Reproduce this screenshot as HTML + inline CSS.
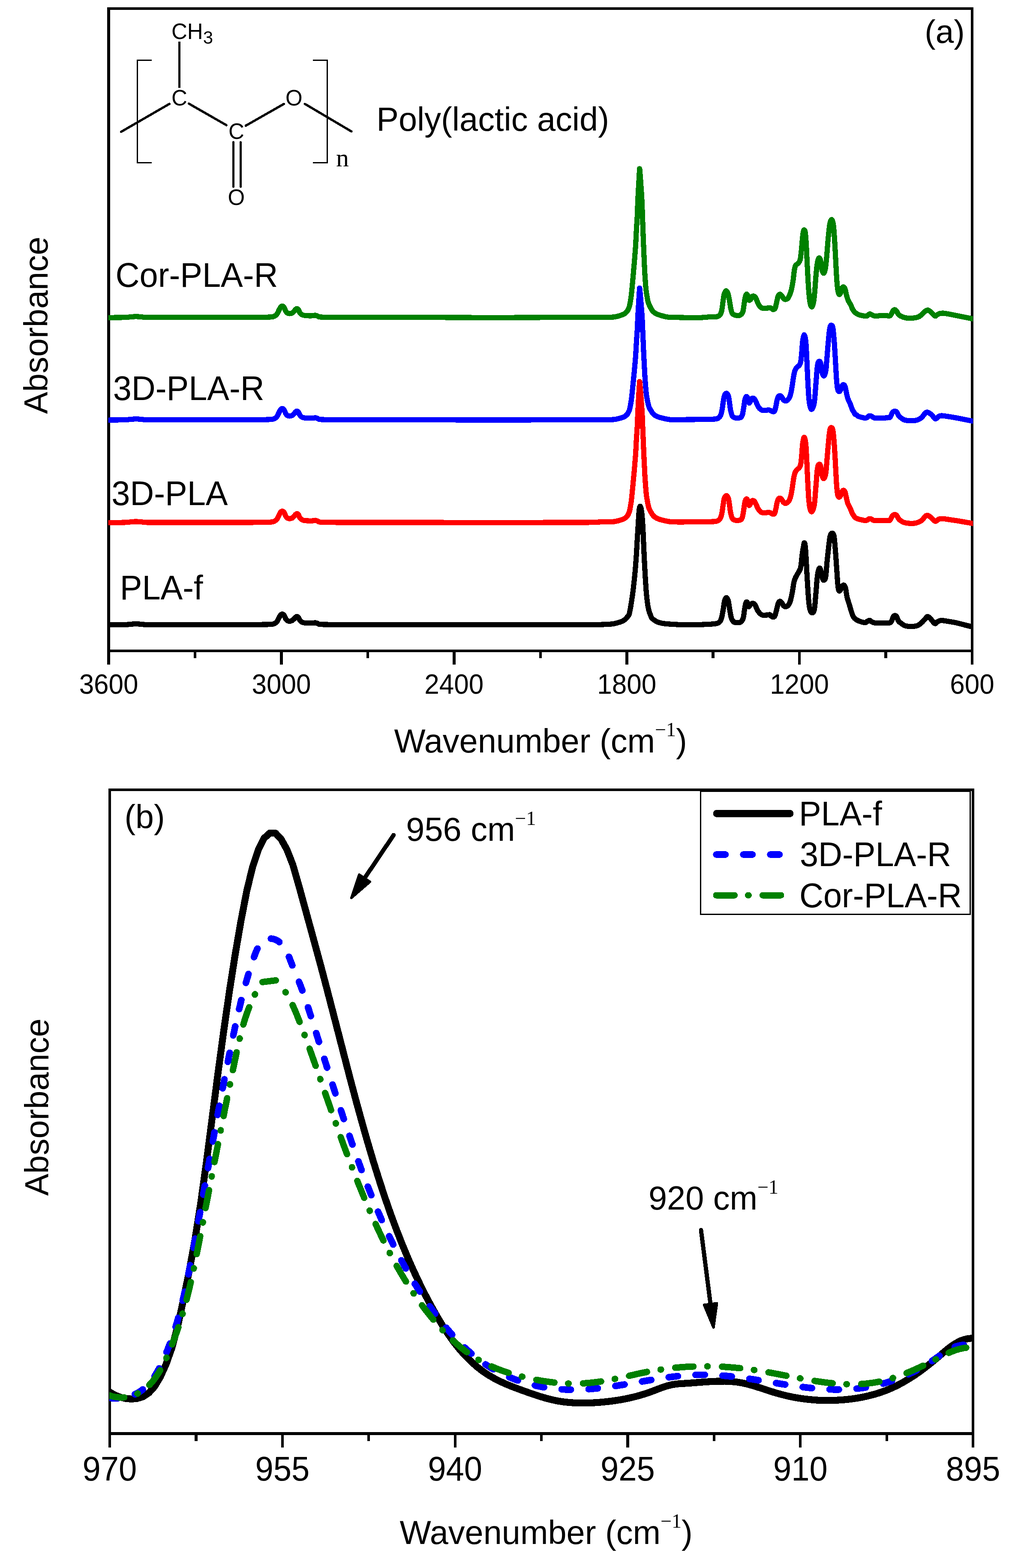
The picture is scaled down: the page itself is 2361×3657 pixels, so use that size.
<!DOCTYPE html>
<html lang="en"><head><meta charset="utf-8"><title>FTIR spectra of poly(lactic acid)</title>
<style>html,body{margin:0;padding:0;background:#fff}body{width:2361px;height:3657px;overflow:hidden}svg{display:block}text{font-family:"Liberation Sans", Arial, Helvetica, sans-serif;fill:#000}.se{font-family:"Liberation Serif", "Times New Roman", serif}.ax{stroke:#000;fill:none}.cv{fill:none;stroke-linejoin:round;stroke-linecap:round}</style></head><body>
<svg width="2361" height="3657" viewBox="0 0 2361 3657" shape-rendering="crispEdges" role="img" aria-label="FTIR spectra of PLA samples">
<rect width="2361" height="3657" fill="#fff"/>
<g id="plot-a">
<rect x="250" y="16.9" width="7.1" height="1533" fill="#000"/>
<rect x="2265" y="16.9" width="6.1" height="1533" fill="#000"/>
<rect x="250" y="16.9" width="2021.1" height="6.1" fill="#000"/>
<rect x="250" y="1515" width="2021.1" height="5.7" fill="#000"/>
<rect x="653.1" y="1518" width="6.6" height="31.9" fill="#000"/>
<rect x="1056" y="1518" width="6.6" height="31.9" fill="#000"/>
<rect x="1458.9" y="1518" width="6.6" height="31.9" fill="#000"/>
<rect x="1861.8" y="1518" width="6.6" height="31.9" fill="#000"/>
<rect x="451.7" y="1518" width="6.6" height="17.3" fill="#000"/>
<rect x="854.6" y="1518" width="6.6" height="17.3" fill="#000"/>
<rect x="1257.5" y="1518" width="6.6" height="17.3" fill="#000"/>
<rect x="1660.4" y="1518" width="6.6" height="17.3" fill="#000"/>
<rect x="2063.3" y="1518" width="6.6" height="17.3" fill="#000"/>
<clipPath id="ca"><rect x="252.6" y="20" width="2017.4" height="1498"/></clipPath>
<g clip-path="url(#ca)">
<path class="cv" stroke="#008000" stroke-width="12.2" d="M244 740.8C251.7 740.7 279.8 740.6 290 740.3C300.2 740 300.5 739.4 305 739.1C309.5 738.8 312.8 738.3 317 738.3C321.2 738.3 325.3 738.8 330 739.1C334.7 739.4 333.3 740.1 345 740.3C356.7 740.5 374.2 740.3 400 740.3C425.8 740.3 470 740.3 500 740.3C530 740.3 561.5 740.4 580 740.3C598.5 740.2 602.4 740.1 611.2 739.9C619.9 739.7 627.7 739.7 632.6 739.3C637.5 738.9 638.1 738.5 640.4 737.4C642.7 736.2 644.5 734.9 646.2 732.5C648 730.1 649.6 725.5 651.1 722.8C652.6 720 653.7 717.4 655 715.9C656.3 714.5 657.6 713.8 658.9 714C660.2 714.2 661.5 715 662.8 716.9C664.1 718.9 665.4 723.5 666.7 725.7C668 727.9 669.1 729.2 670.6 730.2C672.1 731.1 673.7 731.5 675.5 731.5C677.2 731.5 679.5 731.1 681.3 730.2C683.1 729.2 684.7 727.2 686.2 725.7C687.6 724.2 688.9 722.2 690.1 721.2C691.2 720.2 692 719.6 693 719.8C694 720 695.2 720.8 696.3 722.4C697.4 724 698.4 727.6 699.8 729.6C701.2 731.5 702.6 733 704.7 734.1C706.8 735.1 708.6 735.6 712.5 736C716.4 736.4 724.2 736.5 728.1 736.4C732 736.3 733.6 735.3 735.9 735.4C738.1 735.6 740.1 736.7 741.7 737.4C743.3 738 741.7 738.9 745.6 739.3C749.5 739.7 757 739.7 765.1 739.9C773.2 740.1 775.1 740.2 794.3 740.3C813.5 740.4 845.7 740.3 880 740.3C914.3 740.3 963.3 740.2 1000 740.3C1036.7 740.3 1066.7 740.5 1100 740.6C1133.3 740.6 1166.7 740.6 1200 740.6C1233.3 740.5 1271.7 740.3 1300 740.3C1328.3 740.2 1353.3 740.3 1370 740.3C1386.7 740.3 1392.2 740.3 1400 740.3C1407.8 740.2 1411.2 740.1 1416.8 739.9C1422.4 739.7 1428.5 739.9 1433.5 739.2C1438.5 738.6 1443 737.1 1446.9 735.9C1450.8 734.6 1454.2 733.5 1457 731.7C1459.8 729.9 1462 727.4 1463.7 725.1C1465.4 722.9 1466.3 720.2 1467.1 718.2C1467.9 716.2 1468.2 715.5 1468.7 713.3C1469.2 711.1 1469.7 709.2 1470.4 705C1471.1 700.8 1472.2 693.6 1472.9 688C1473.6 682.4 1473.8 679.7 1474.6 671.4C1475.4 663 1476.6 649.2 1477.6 638.1C1478.6 626.9 1479.6 615.6 1480.5 604.4C1481.4 593.3 1482.3 582.3 1483 571.1C1483.7 560 1484.1 548.6 1484.7 537.5C1485.3 526.3 1486.2 515.3 1486.7 504.2C1487.2 493 1487.5 481.7 1488 470.5C1488.5 459.3 1489.1 448 1489.7 436.9C1490.3 425.7 1491.2 410.8 1491.6 403.6C1492 396.3 1491.9 393.5 1492.2 393.5C1492.5 393.5 1492.6 396.3 1493.2 403.6C1493.8 410.8 1494.9 425.7 1495.6 436.9C1496.4 448 1497.2 459.3 1497.7 470.5C1498.2 481.7 1498.5 493 1498.9 504.2C1499.3 515.3 1499.7 526.3 1500.1 537.5C1500.5 548.6 1501 560 1501.4 571.1C1501.9 582.3 1502.3 593.3 1502.8 604.4C1503.3 615.6 1503.7 626.9 1504.4 638.1C1505.1 649.2 1506 663 1506.8 671.4C1507.6 679.7 1508.1 682.4 1509 688C1509.9 693.6 1511.2 700.8 1512.3 705C1513.4 709.2 1514 710 1515.7 713.3C1517.4 716.7 1519.9 722.1 1522.4 725.1C1524.9 728.2 1527.5 729.9 1530.8 731.7C1534.1 733.5 1537.8 734.6 1542.5 735.9C1547.2 737.2 1552.2 739 1559.2 739.7C1566.2 740.5 1575.9 740.2 1584.2 740.4C1592.5 740.6 1601 740.8 1609.1 740.8C1617.2 740.9 1625.5 741.1 1633 740.8C1640.4 740.6 1647.4 739.7 1653.9 739.3C1660.4 739 1667.6 739.5 1671.8 738.7C1676 738 1677.3 737.2 1679.3 734.9C1681.3 732.5 1682.5 729.6 1683.8 724.4C1685 719.2 1685.7 710 1686.7 703.5C1687.7 697 1688.5 689.8 1689.7 685.6C1691 681.3 1692.7 678.1 1694.2 678.1C1695.7 678.1 1697.3 681.3 1698.7 685.6C1700 689.8 1701.2 697.5 1702.3 703.5C1703.4 709.5 1704.1 716.7 1705.3 721.4C1706.4 726.1 1707 729.5 1709.1 731.9C1711.3 734.3 1715.1 735.2 1718.1 735.7C1721.1 736.2 1724.6 736.2 1727.1 734.9C1729.5 733.5 1731.5 731.6 1733 727.4C1734.5 723.2 1735 715.4 1736 709.5C1737 703.5 1737.9 695.4 1739 691.5C1740.1 687.7 1741.4 685.7 1742.6 686.2C1743.7 686.7 1745 692.1 1745.9 694.5C1746.8 696.9 1747 700 1748 700.5C1749 701 1750.7 699 1751.9 697.5C1753 696 1753.6 692.6 1754.8 691.5C1756.1 690.4 1757.8 690.2 1759.3 690.9C1760.8 691.7 1762.4 693.4 1763.8 696C1765.2 698.6 1766.4 703.2 1768 706.5C1769.6 709.7 1771.2 713.3 1773.4 715.4C1775.5 717.6 1777.8 718.8 1780.8 719.3C1783.8 719.8 1788.5 718.7 1791.3 718.4C1794 718.2 1795.5 717.4 1797.3 717.8C1799 718.2 1800.5 720.1 1801.7 720.8C1803 721.5 1803.6 722.4 1804.7 722C1805.9 721.6 1807.5 721 1808.6 718.4C1809.7 715.8 1810.5 711 1811.6 706.5C1812.7 702 1813.8 694.9 1815.2 691.5C1816.5 688.2 1818.2 686.4 1819.7 686.2C1821.1 685.9 1822.6 688.3 1824.1 690C1825.6 691.8 1827.1 695.5 1828.6 696.9C1830.1 698.3 1831.4 698.8 1833.1 698.4C1834.8 698 1836.9 698.1 1839.1 694.5C1841.2 690.9 1844.1 683.8 1846 676.9C1847.9 669.9 1849.2 660.9 1850.5 653C1851.7 645 1852.4 634.8 1853.4 629.1C1854.4 623.4 1854.9 621.1 1856.4 618.6C1857.9 616.1 1860.7 616.4 1862.4 614.1C1864.1 611.9 1865.6 610.7 1866.9 605.2C1868.1 599.7 1869 589.8 1869.9 581.3C1870.8 572.8 1871.5 561.4 1872.3 554.4C1873 547.4 1873.7 542.5 1874.3 539.5C1875 536.5 1875.7 536 1876.4 536.5C1877.2 537 1878.1 537 1878.8 542.5C1879.6 547.9 1880.3 558.9 1880.9 569.3C1881.6 579.8 1882.1 592.2 1882.7 605.2C1883.4 618.1 1884.1 634.1 1884.8 647C1885.5 659.9 1886.3 672.9 1887.2 682.8C1888 692.8 1888.8 701.3 1889.9 706.7C1891 712.2 1892.5 715.7 1893.8 715.7C1895.1 715.7 1896.5 712.2 1897.6 706.7C1898.8 701.3 1899.7 692.8 1900.6 682.8C1901.6 672.9 1902.4 658 1903.3 647C1904.3 636 1905.3 624.4 1906.3 617.1C1907.3 609.9 1908.3 606.2 1909.3 603.7C1910.3 601.2 1911.3 601 1912.3 602.2C1913.3 603.4 1914.4 606.7 1915.3 611.2C1916.2 615.6 1916.7 624.7 1917.7 629.1C1918.7 633.5 1920 637.4 1921.2 637.4C1922.5 637.4 1924 634.5 1925.1 629.1C1926.3 623.7 1927.2 614.1 1928.1 605.2C1929 596.2 1929.7 585.3 1930.5 575.3C1931.3 565.4 1932.2 554.4 1933.2 545.4C1934.1 536.5 1935 527.1 1936.2 521.6C1937.3 516 1938.8 512 1940.1 512C1941.4 512 1942.8 515 1943.9 521.6C1945 528.1 1945.8 539.5 1946.6 551.4C1947.5 563.4 1948.3 579.3 1949 593.2C1949.8 607.2 1950.4 622.6 1951.1 635.1C1951.9 647.5 1952.7 659.9 1953.5 667.9C1954.3 675.9 1955 679.7 1955.9 682.8C1956.8 686 1957.8 687.2 1958.9 686.7C1960 686.2 1961.4 682.5 1962.5 679.9C1963.6 677.2 1964.5 672.6 1965.4 670.9C1966.4 669.2 1967.3 668.7 1968.4 669.4C1969.5 670.1 1970.9 672.1 1972 675.4C1973.1 678.6 1973.9 684.6 1975 688.8C1976.2 693 1977.2 697 1978.9 700.8C1980.5 704.5 1983.1 707.7 1984.9 711.2C1986.6 714.7 1987.6 718.7 1989.3 721.7C1991.1 724.7 1992.8 727 1995.3 729.1C1997.8 731.2 2001 733 2004.3 734.2C2007.5 735.5 2011.7 736.1 2014.7 736.6C2017.7 737.1 2020.2 737.7 2022.2 737.2C2024.2 736.7 2025.4 734.5 2026.7 733.6C2027.9 732.8 2028.4 732 2029.7 732.1C2030.9 732.2 2032.2 733.4 2034.1 734.2C2036.1 735.1 2038.1 736.9 2041.6 737.2C2045.1 737.5 2050.8 736.2 2055.1 736C2059.3 735.8 2063.5 735.9 2067 736C2070.5 736.1 2073.7 737.5 2076 736.6C2078.2 735.7 2079.2 732.6 2080.4 730.6C2081.7 728.6 2082.3 726.1 2083.4 724.7C2084.6 723.3 2086 722.2 2087.3 722.3C2088.7 722.4 2090.1 723.6 2091.5 725.3C2092.8 726.9 2093.7 730.1 2095.4 732.1C2097 734.1 2098.6 735.7 2101.4 737.2C2104.1 738.7 2108.1 740.3 2111.8 741.1C2115.5 741.9 2119.8 742 2123.8 742C2127.7 742 2132.2 741.7 2135.7 741.1C2139.2 740.4 2141.9 739.6 2144.7 738.1C2147.4 736.6 2149.9 734.1 2152.1 732.1C2154.4 730.1 2156.1 727.6 2158.1 726.2C2160.1 724.7 2162.1 723.2 2164.1 723.2C2166.1 723.2 2168.1 724.7 2170 726.2C2172 727.6 2174 730.3 2176 732.1C2178 734 2180.3 736.9 2182 737.2C2183.7 737.6 2184.7 735.2 2186.5 734.2C2188.2 733.2 2190 731.8 2192.4 731.2C2194.9 730.6 2197.4 730.3 2201.4 730.6C2205.4 730.9 2210.9 732 2216.3 733C2221.8 734 2228.3 735.4 2234.3 736.6C2240.2 737.8 2244.6 738.7 2252.2 740.2C2259.8 741.7 2275.4 744.8 2280 745.8"/>
<path class="cv" stroke="#0000ff" stroke-width="12.2" d="M244 979.7C251.7 979.6 279.8 979.5 290 979.2C300.2 978.9 300.5 978.3 305 978C309.5 977.7 312.8 977.2 317 977.2C321.2 977.2 325.3 977.7 330 978C334.7 978.3 333.3 979 345 979.2C356.7 979.4 374.2 979.2 400 979.2C425.8 979.2 470 979.2 500 979.2C530 979.2 561.5 979.3 580 979.2C598.5 979.1 602.4 979 611.2 978.8C619.9 978.6 627.7 978.6 632.6 978.2C637.5 977.8 638.1 977.4 640.4 976.3C642.7 975.1 644.5 973.8 646.2 971.4C648 969 649.6 964.4 651.1 961.7C652.6 958.9 653.7 956.3 655 954.8C656.3 953.4 657.6 952.7 658.9 952.9C660.2 953.1 661.5 953.9 662.8 955.8C664.1 957.8 665.4 962.4 666.7 964.6C668 966.8 669.1 968.1 670.6 969.1C672.1 970 673.7 970.4 675.5 970.4C677.2 970.4 679.5 970 681.3 969.1C683.1 968.1 684.7 966.1 686.2 964.6C687.6 963.1 688.9 961.1 690.1 960.1C691.2 959.1 692 958.5 693 958.7C694 958.9 695.2 959.7 696.3 961.3C697.4 962.9 698.4 966.5 699.8 968.5C701.2 970.4 702.6 971.9 704.7 973C706.8 974 708.6 974.5 712.5 974.9C716.4 975.3 724.2 975.4 728.1 975.3C732 975.2 733.6 974.2 735.9 974.3C738.1 974.5 740.1 975.6 741.7 976.3C743.3 976.9 741.7 977.8 745.6 978.2C749.5 978.6 757 978.6 765.1 978.8C773.2 979 775.1 979.1 794.3 979.2C813.5 979.3 845.7 979.2 880 979.2C914.3 979.2 963.3 979.2 1000 979.2C1036.7 979.2 1066.7 979.5 1100 979.5C1133.3 979.5 1166.7 979.5 1200 979.5C1233.3 979.5 1271.7 979.2 1300 979.2C1328.3 979.2 1353.3 979.2 1370 979.2C1386.7 979.2 1392.2 979.2 1400 979.2C1407.8 979.1 1411.2 979 1416.8 978.8C1422.4 978.7 1428.5 978.8 1433.5 978.3C1438.5 977.7 1443 976.4 1446.9 975.3C1450.8 974.2 1454.2 973.2 1457 971.6C1459.8 970 1462 967.8 1463.7 965.8C1465.4 963.8 1466.3 961.4 1467.1 959.6C1467.9 957.9 1468.2 957.3 1468.7 955.3C1469.2 953.4 1469.7 951.7 1470.4 947.9C1471.1 944.2 1472.2 937.8 1472.9 932.9C1473.6 927.9 1473.8 925.5 1474.6 918.1C1475.4 910.7 1476.6 898.5 1477.6 888.6C1478.6 878.7 1479.6 868.7 1480.5 858.8C1481.4 848.9 1482.3 839.1 1483 829.2C1483.7 819.3 1484.1 809.3 1484.7 799.4C1485.3 789.5 1486.2 779.8 1486.7 769.9C1487.2 760 1487.5 750 1488 740.1C1488.5 730.1 1489.1 720.1 1489.7 710.2C1490.3 700.3 1491.2 687.1 1491.6 680.7C1492 674.3 1491.9 671.8 1492.2 671.8C1492.5 671.8 1492.7 674.3 1493.3 680.7C1493.9 687.1 1495 700.3 1495.8 710.2C1496.6 720.1 1497.5 730.1 1498.1 740.1C1498.7 750 1498.9 760 1499.4 769.9C1499.8 779.8 1500.2 789.5 1500.7 799.4C1501.1 809.3 1501.6 819.3 1502 829.2C1502.5 839.1 1503 848.9 1503.5 858.8C1504.1 868.7 1504.5 878.7 1505.3 888.6C1506 898.5 1507 910.7 1507.8 918.1C1508.6 925.5 1509.2 927.9 1510.2 932.9C1511.2 937.8 1512.5 944.2 1513.7 947.9C1514.9 951.7 1515.5 952.3 1517.3 955.3C1519.1 958.3 1521.8 963.1 1524.5 965.8C1527.2 968.5 1529.9 970 1533.5 971.6C1537.1 973.2 1541 974.1 1546 975.3C1551.1 976.5 1556.5 978 1563.9 978.7C1571.3 979.4 1584.6 979.3 1590.6 979.3C1596.7 979.3 1591.8 978.8 1600 978.6C1608.2 978.4 1630 978.4 1640 978.3C1650 978.2 1655.1 977.9 1660 977.7C1664.9 977.6 1666.6 977.7 1669.4 977.3C1672.1 976.8 1674.4 976.3 1676.4 974.9C1678.3 973.6 1679.7 972.2 1681 969.1C1682.4 966 1683.6 961.1 1684.5 956.2C1685.5 951.4 1686 945.3 1686.9 939.9C1687.8 934.4 1688.6 927.3 1689.9 923.5C1691.2 919.7 1693 917.2 1694.6 917.2C1696.2 917.2 1698 919.7 1699.3 923.5C1700.5 927.3 1701.2 934.4 1702.1 939.9C1702.9 945.3 1703.4 951.4 1704.4 956.2C1705.4 961.1 1706.6 966.2 1707.9 969.1C1709.3 972 1710.5 972.8 1712.6 973.8C1714.7 974.7 1718 975 1720.8 974.9C1723.5 974.8 1727 974.6 1729 973.1C1730.9 971.5 1731.4 969.5 1732.5 965.6C1733.5 961.6 1734.3 955.1 1735.3 949.2C1736.2 943.4 1737.2 934.6 1738.3 930.5C1739.4 926.4 1740.6 924.7 1741.8 924.7C1743 924.7 1744.3 928 1745.3 930.5C1746.3 933 1746.8 938.9 1747.7 939.9C1748.6 940.8 1749.7 938 1750.7 936.4C1751.7 934.7 1752.4 931.3 1753.5 930C1754.6 928.8 1755.8 928.5 1757 928.6C1758.2 928.8 1759.3 929.5 1760.5 931C1761.7 932.5 1762.9 935.1 1764 937.5C1765.2 940 1766.2 943.2 1767.5 945.7C1768.9 948.2 1770.4 950.9 1772.2 952.7C1774 954.5 1775.7 956 1778 956.7C1780.4 957.4 1783.7 957 1786.2 956.9C1788.8 956.8 1791.3 956.1 1793.2 956.2C1795.2 956.3 1796.6 956.8 1797.9 957.4C1799.3 958 1800.3 959.2 1801.4 959.7C1802.6 960.2 1803.9 960.8 1804.9 960.4C1806 960 1806.8 959.7 1807.7 957.4C1808.6 955.1 1809.4 951 1810.3 946.9C1811.2 942.8 1812.1 936.5 1813.1 932.8C1814.1 929.1 1815.1 926.3 1816.1 924.7C1817.2 923 1818.4 922.8 1819.7 923C1820.9 923.2 1822.4 924.4 1823.6 925.8C1824.9 927.3 1825.8 930.1 1827.1 931.7C1828.5 933.2 1830.1 935 1831.8 935.2C1833.6 935.4 1835.9 934.4 1837.7 932.8C1839.4 931.3 1841 929 1842.3 925.8C1843.7 922.7 1844.7 919.2 1845.8 914.1C1846.9 909.1 1847.9 901.7 1848.9 895.4C1849.8 889.2 1850.6 882.2 1851.7 876.7C1852.7 871.3 1853.8 866.1 1855.2 862.7C1856.5 859.3 1858.3 857.9 1859.9 856.2C1861.4 854.4 1863.2 854.2 1864.5 852.2C1865.9 850.2 1867.1 848.9 1868 844C1869 839.2 1869.6 831.2 1870.4 823C1871.2 814.8 1871.7 801.9 1872.7 794.9C1873.7 787.9 1875.1 780.9 1876.2 780.9C1877.4 780.9 1878.8 787.9 1879.7 794.9C1880.6 801.9 1881 812.5 1881.6 823C1882.2 833.5 1882.7 846.4 1883.2 858C1883.8 869.7 1884.3 882.2 1884.9 893.1C1885.5 904 1886 914.9 1886.7 923.5C1887.4 932.1 1888.1 939.4 1889.1 944.5C1890.1 949.7 1891.4 953.2 1892.6 954.4C1893.8 955.5 1894.9 954 1896.1 951.5C1897.3 949.1 1898.6 945.7 1899.6 939.9C1900.6 934 1901.2 925.3 1901.9 916.3C1902.7 907.2 1903.5 895.4 1904.3 885.5C1905.1 875.6 1905.8 863.8 1906.6 857.1C1907.4 850.4 1908 847.6 1908.9 845.2C1909.9 842.8 1911.4 842.1 1912.5 842.9C1913.5 843.6 1914.4 846 1915.3 849.9C1916.1 853.8 1916.7 861.9 1917.6 866.3C1918.5 870.6 1919.5 874.7 1920.6 876C1921.7 877.3 1923.1 876.7 1924.1 874.1C1925.2 871.5 1926.3 867 1927.2 860.4C1928 853.8 1928.5 843.6 1929.3 834.7C1930 825.7 1930.7 816.7 1931.6 806.6C1932.5 796.5 1933.8 781.5 1934.7 773.9C1935.6 766.3 1936.1 763.6 1937 761C1937.9 758.5 1939.1 758.3 1940 758.7C1941 759.1 1941.9 758.5 1942.8 763.4C1943.8 768.2 1944.8 778.1 1945.6 787.9C1946.5 797.8 1947.3 811.2 1948 822.4C1948.7 833.7 1949.2 844.8 1949.9 855.4C1950.5 866 1951 877.4 1951.7 886C1952.4 894.5 1953.1 902.1 1954.1 906.7C1955 911.2 1956.1 912.8 1957.3 913.2C1958.6 913.6 1960.3 911.3 1961.5 909C1962.8 906.7 1964 901.6 1965 899.7C1966.1 897.7 1967 897.1 1968.1 897.3C1969.1 897.5 1970.3 898.1 1971.4 900.9C1972.4 903.8 1973.3 909.8 1974.4 914.5C1975.5 919.2 1976.3 924.7 1977.9 929.3C1979.5 934 1982 938 1983.7 942.3C1985.5 946.6 1986.9 951.7 1988.4 955.1C1990 958.4 1992.1 960.7 1993.1 962.6C1994.1 964.4 1993.6 965.4 1994.6 966.2C1995.6 967.1 1997.8 967.2 1998.9 967.9C2000.1 968.6 1999.4 969.6 2001.4 970.5C2003.5 971.5 2008.2 972.9 2011.2 973.6C2014.1 974.4 2016.9 975.1 2019 975C2021.1 974.9 2022.5 973.8 2023.8 973.1C2025.1 972.3 2025.7 971.1 2026.8 970.5C2027.8 970 2029.1 969.6 2030.3 969.7C2031.4 969.8 2032.4 970.5 2033.6 971.1C2034.8 971.8 2036 973 2037.5 973.6C2038.9 974.3 2038.9 974.8 2042.3 975C2045.8 975.2 2053.7 975.1 2057.9 975C2062.1 974.9 2064.7 974.6 2067.7 974.4C2070.6 974.3 2073.7 974.7 2075.5 974C2077.2 973.3 2077.4 971.9 2078.4 970.1C2079.4 968.3 2080.2 965.1 2081.3 963.3C2082.4 961.5 2084.1 960.2 2085.2 959.4C2086.3 958.7 2087.1 958.7 2088.1 958.8C2089.2 959 2090.3 959.2 2091.4 960.4C2092.6 961.6 2093.9 964.5 2094.9 966.2C2096 968 2096.6 969.6 2097.9 971.1C2099.2 972.6 2100.9 973.7 2102.7 975C2104.5 976.3 2106.3 977.9 2108.6 978.9C2110.9 979.9 2113.1 980.5 2116.4 980.8C2119.6 981.2 2124.5 980.9 2128.1 980.8C2131.6 980.8 2134.9 980.9 2137.8 980.3C2140.7 979.6 2143.3 978.3 2145.6 977C2147.9 975.7 2149.7 974.3 2151.4 972.5C2153.2 970.7 2154.8 967.9 2156.3 966.2C2157.8 964.5 2158.9 963.2 2160.2 962.3C2161.5 961.5 2162.8 961.2 2164.1 961.4C2165.4 961.5 2166.7 962.5 2168 963.3C2169.3 964.1 2170.6 965.1 2171.9 966.2C2173.2 967.4 2174.5 968.7 2175.8 970.1C2177.1 971.6 2178.6 973.9 2179.7 975C2180.8 976.1 2181.6 976.9 2182.6 977C2183.6 977.1 2184.4 976.5 2185.5 975.6C2186.7 974.7 2188 972.7 2189.4 971.7C2190.9 970.7 2192.5 970.1 2194.3 969.7C2196.1 969.4 2196.9 969.4 2200.1 969.7C2203.4 970.1 2208.3 970.8 2213.8 971.7C2219.3 972.6 2226.8 973.8 2233.3 975C2239.8 976.2 2245 977.3 2252.7 978.9C2260.5 980.5 2275.5 983.4 2280 984.4"/>
<path class="cv" stroke="#ff0000" stroke-width="12.2" d="M244 1219C251.7 1218.9 279.8 1218.8 290 1218.5C300.2 1218.2 300.5 1217.6 305 1217.3C309.5 1217 312.8 1216.5 317 1216.5C321.2 1216.5 325.3 1217 330 1217.3C334.7 1217.6 333.3 1218.3 345 1218.5C356.7 1218.7 374.2 1218.5 400 1218.5C425.8 1218.5 470 1218.5 500 1218.5C530 1218.5 561.5 1218.6 580 1218.5C598.5 1218.4 602.4 1218.3 611.2 1218.1C619.9 1217.9 627.7 1217.9 632.6 1217.5C637.5 1217.1 638.1 1216.7 640.4 1215.6C642.7 1214.4 644.5 1213.1 646.2 1210.7C648 1208.3 649.6 1203.7 651.1 1201C652.6 1198.2 653.7 1195.6 655 1194.1C656.3 1192.7 657.6 1192 658.9 1192.2C660.2 1192.4 661.5 1193.2 662.8 1195.1C664.1 1197.1 665.4 1201.7 666.7 1203.9C668 1206.1 669.1 1207.4 670.6 1208.4C672.1 1209.3 673.7 1209.7 675.5 1209.7C677.2 1209.7 679.5 1209.3 681.3 1208.4C683.1 1207.4 684.7 1205.4 686.2 1203.9C687.6 1202.4 688.9 1200.4 690.1 1199.4C691.2 1198.4 692 1197.8 693 1198C694 1198.2 695.2 1199 696.3 1200.6C697.4 1202.2 698.4 1205.8 699.8 1207.8C701.2 1209.7 702.6 1211.2 704.7 1212.3C706.8 1213.3 708.6 1213.8 712.5 1214.2C716.4 1214.6 724.2 1214.7 728.1 1214.6C732 1214.5 733.6 1213.5 735.9 1213.6C738.1 1213.8 740.1 1214.9 741.7 1215.6C743.3 1216.2 741.7 1217.1 745.6 1217.5C749.5 1217.9 757 1217.9 765.1 1218.1C773.2 1218.3 775.1 1218.4 794.3 1218.5C813.5 1218.6 845.7 1218.5 880 1218.5C914.3 1218.5 963.3 1218.5 1000 1218.5C1036.7 1218.5 1066.7 1218.8 1100 1218.8C1133.3 1218.8 1166.7 1218.8 1200 1218.8C1233.3 1218.8 1271.7 1218.5 1300 1218.5C1328.3 1218.5 1353.3 1218.7 1370 1218.5C1386.7 1218.3 1392.2 1217.6 1400 1217.4C1407.8 1217.1 1411.2 1217.2 1416.8 1217C1422.4 1216.8 1428.5 1217 1433.5 1216.4C1438.5 1215.8 1443 1214.4 1446.9 1213.2C1450.8 1212.1 1454.2 1211 1457 1209.3C1459.8 1207.6 1462 1205.2 1463.7 1203.1C1465.4 1201 1466.3 1198.4 1467.1 1196.5C1467.9 1194.7 1468.2 1194 1468.7 1192C1469.2 1189.9 1469.7 1188.1 1470.4 1184.1C1471.1 1180.1 1472.2 1173.3 1472.9 1168C1473.6 1162.8 1473.8 1160.2 1474.6 1152.3C1475.4 1144.5 1476.6 1131.4 1477.6 1120.9C1478.6 1110.4 1479.6 1099.7 1480.5 1089.1C1481.4 1078.6 1482.3 1068.2 1483 1057.7C1483.7 1047.1 1484.1 1036.4 1484.7 1025.9C1485.3 1015.4 1486.2 1005 1486.7 994.5C1487.2 983.9 1487.5 973.3 1488 962.7C1488.5 952.1 1489.1 941.5 1489.7 930.9C1490.3 920.4 1491.2 906.3 1491.6 899.5C1492 892.7 1491.9 890 1492.2 890C1492.5 890 1492.7 892.7 1493.3 899.5C1493.9 906.3 1495 920.4 1495.8 930.9C1496.6 941.5 1497.5 952.1 1498.1 962.7C1498.7 973.3 1498.9 983.9 1499.4 994.5C1499.8 1005 1500.2 1015.4 1500.7 1025.9C1501.1 1036.4 1501.6 1047.1 1502 1057.7C1502.5 1068.2 1503 1078.6 1503.5 1089.1C1504.1 1099.7 1504.5 1110.4 1505.3 1120.9C1506 1131.4 1507 1144.5 1507.8 1152.3C1508.6 1160.2 1509.2 1162.8 1510.2 1168C1511.2 1173.3 1512.5 1180.1 1513.7 1184.1C1514.9 1188.1 1515.5 1188.8 1517.3 1192C1519.1 1195.1 1521.8 1200.2 1524.5 1203.1C1527.2 1206 1529.9 1207.6 1533.5 1209.3C1537.1 1211 1541 1212 1546 1213.2C1551.1 1214.5 1556.5 1216.1 1563.9 1216.8C1571.3 1217.6 1584.6 1217.4 1590.6 1217.5C1596.7 1217.6 1591.8 1217.4 1600 1217.3C1608.2 1217.2 1630 1217.1 1640 1217C1650 1216.9 1655.1 1216.7 1660 1216.6C1664.9 1216.4 1666.6 1216.6 1669.4 1216.1C1672.1 1215.6 1674.4 1215.1 1676.4 1213.8C1678.3 1212.4 1679.7 1211 1681 1207.9C1682.4 1204.8 1683.6 1199.9 1684.5 1195.1C1685.5 1190.2 1686 1184.1 1686.9 1178.7C1687.8 1173.2 1688.6 1166.1 1689.9 1162.3C1691.2 1158.5 1693 1156 1694.6 1156C1696.2 1156 1698 1158.5 1699.3 1162.3C1700.5 1166.1 1701.2 1173.2 1702.1 1178.7C1702.9 1184.1 1703.4 1190.2 1704.4 1195.1C1705.4 1199.9 1706.6 1205 1707.9 1207.9C1709.3 1210.8 1710.5 1211.6 1712.6 1212.6C1714.7 1213.6 1718 1213.9 1720.8 1213.8C1723.5 1213.6 1727 1213.4 1729 1211.9C1730.9 1210.3 1731.4 1208.4 1732.5 1204.4C1733.5 1200.4 1734.3 1193.9 1735.3 1188C1736.2 1182.2 1737.2 1173.4 1738.3 1169.3C1739.4 1165.3 1740.6 1163.5 1741.8 1163.5C1743 1163.5 1744.3 1166.8 1745.3 1169.3C1746.3 1171.9 1746.8 1177.7 1747.7 1178.7C1748.6 1179.7 1749.7 1176.8 1750.7 1175.2C1751.7 1173.5 1752.4 1170.2 1753.5 1168.9C1754.6 1167.6 1755.8 1167.3 1757 1167.5C1758.2 1167.6 1759.3 1168.3 1760.5 1169.8C1761.7 1171.3 1762.9 1173.9 1764 1176.4C1765.2 1178.8 1766.2 1182 1767.5 1184.5C1768.9 1187.1 1770.4 1189.7 1772.2 1191.5C1774 1193.4 1775.7 1194.8 1778 1195.5C1780.4 1196.2 1783.7 1195.8 1786.2 1195.8C1788.8 1195.7 1791.3 1195 1793.2 1195.1C1795.2 1195.1 1796.6 1195.6 1797.9 1196.2C1799.3 1196.8 1800.3 1198.1 1801.4 1198.6C1802.6 1199.1 1803.9 1199.7 1804.9 1199.3C1806 1198.9 1806.8 1198.5 1807.7 1196.2C1808.6 1194 1809.4 1189.8 1810.3 1185.7C1811.2 1181.6 1812.1 1175.4 1813.1 1171.7C1814.1 1168 1815.1 1165.1 1816.1 1163.5C1817.2 1161.9 1818.4 1161.7 1819.7 1161.9C1820.9 1162.1 1822.4 1163.2 1823.6 1164.7C1824.9 1166.1 1825.8 1169 1827.1 1170.5C1828.5 1172.1 1830.1 1173.8 1831.8 1174C1833.6 1174.2 1835.9 1173.2 1837.7 1171.7C1839.4 1170.1 1841 1167.8 1842.3 1164.7C1843.7 1161.5 1844.7 1158 1845.8 1153C1846.9 1147.9 1847.9 1140.5 1848.9 1134.3C1849.8 1128 1850.6 1121 1851.7 1115.6C1852.7 1110.1 1853.8 1105 1855.2 1101.6C1856.5 1098.1 1858.3 1096.8 1859.9 1095C1861.4 1093.3 1863.2 1093.1 1864.5 1091C1865.9 1089 1867.1 1087.7 1868 1082.9C1869 1078 1869.6 1070 1870.4 1061.8C1871.2 1053.6 1871.7 1040.8 1872.7 1033.8C1873.7 1026.8 1875.1 1019.7 1876.2 1019.7C1877.4 1019.7 1878.8 1026.8 1879.7 1033.8C1880.6 1040.8 1881 1051.3 1881.6 1061.8C1882.2 1072.3 1882.7 1085.2 1883.2 1096.9C1883.8 1108.6 1884.3 1121 1884.9 1131.9C1885.5 1142.8 1886 1153.8 1886.7 1162.3C1887.4 1170.9 1888.1 1178.2 1889.1 1183.4C1890.1 1188.5 1891.4 1192 1892.6 1193.2C1893.8 1194.4 1894.9 1192.8 1896.1 1190.4C1897.3 1188 1898.6 1184.5 1899.6 1178.7C1900.6 1172.8 1901.2 1164.3 1901.9 1155.3C1902.7 1146.4 1903.5 1134.7 1904.3 1124.9C1905.1 1115.2 1905.8 1103.5 1906.6 1096.9C1907.4 1090.3 1908 1087.5 1908.9 1085.2C1909.9 1082.9 1911.4 1082.1 1912.5 1082.9C1913.5 1083.6 1914.4 1086 1915.3 1089.9C1916.1 1093.8 1916.7 1101.9 1917.6 1106.2C1918.5 1110.5 1919.5 1114.4 1920.6 1115.6C1921.7 1116.7 1923.1 1116 1924.1 1113.2C1925.2 1110.5 1926.3 1105.8 1927.2 1099.2C1928 1092.6 1928.5 1082.5 1929.3 1073.5C1930 1064.5 1930.7 1055.6 1931.6 1045.5C1932.5 1035.3 1933.8 1020.3 1934.7 1012.7C1935.6 1005.1 1936.1 1002.4 1937 999.9C1937.9 997.3 1939.1 997.1 1940 997.5C1941 997.9 1941.9 997.3 1942.8 1002.2C1943.8 1007.1 1944.8 1016.8 1945.6 1026.8C1946.5 1036.7 1947.3 1050.1 1948 1061.8C1948.7 1073.5 1949.2 1085.6 1949.9 1096.9C1950.5 1108.2 1951 1120.3 1951.7 1129.6C1952.4 1139 1953.1 1148 1954.1 1153C1955 1158 1956.1 1159.1 1957.3 1159.5C1958.6 1159.9 1960.3 1157.6 1961.5 1155.3C1962.8 1153.1 1964 1147.9 1965 1146C1966.1 1144 1967 1143.4 1968.1 1143.6C1969.1 1143.8 1970.3 1144.4 1971.4 1147.1C1972.4 1149.9 1973.3 1155.5 1974.4 1160C1975.5 1164.5 1976.3 1169.7 1977.9 1174C1979.5 1178.3 1982 1181.8 1983.7 1185.7C1985.5 1189.6 1986.9 1194.3 1988.4 1197.4C1990 1200.5 1992.1 1202.8 1993.1 1204.4C1994.1 1206 1993.6 1206.1 1994.6 1206.8C1995.6 1207.6 1997.8 1208.5 1998.9 1209.1C2000.1 1209.6 1999.4 1209.5 2001.4 1210.2C2003.5 1210.8 2008.2 1212 2011.2 1212.7C2014.1 1213.3 2016.9 1214 2019 1214C2021.1 1214 2022.5 1213.3 2023.8 1212.7C2025.1 1212 2025.7 1210.6 2026.8 1210.2C2027.8 1209.7 2029.1 1209.6 2030.3 1209.8C2031.4 1209.9 2032.4 1210.5 2033.6 1211.1C2034.8 1211.7 2036 1212.8 2037.5 1213.3C2038.9 1213.8 2038.9 1213.9 2042.3 1214C2045.8 1214.2 2053.7 1214 2057.9 1214C2062.1 1214 2064.7 1214 2067.7 1214C2070.6 1214 2073.7 1214.8 2075.5 1214C2077.2 1213.3 2077.4 1211.4 2078.4 1209.8C2079.4 1208.1 2080.2 1205.5 2081.3 1203.9C2082.4 1202.4 2084.1 1201.1 2085.2 1200.4C2086.3 1199.8 2087.1 1199.8 2088.1 1200C2089.2 1200.2 2090.3 1200.3 2091.4 1201.6C2092.6 1202.8 2093.9 1205.7 2094.9 1207.4C2096 1209.1 2096.6 1210.4 2097.9 1211.7C2099.2 1213 2100.9 1214.1 2102.7 1215.2C2104.5 1216.4 2106.3 1217.7 2108.6 1218.5C2110.9 1219.3 2113.1 1219.7 2116.4 1220.1C2119.6 1220.5 2124.5 1221 2128.1 1220.9C2131.6 1220.8 2134.9 1220.2 2137.8 1219.5C2140.7 1218.8 2143.3 1217.7 2145.6 1216.6C2147.9 1215.4 2149.7 1214.3 2151.4 1212.7C2153.2 1211.1 2154.8 1208.5 2156.3 1206.8C2157.8 1205.2 2158.9 1203.8 2160.2 1202.9C2161.5 1202.1 2162.8 1201.8 2164.1 1202C2165.4 1202.1 2166.7 1203.1 2168 1203.9C2169.3 1204.7 2170.6 1205.7 2171.9 1206.8C2173.2 1208 2174.5 1209.4 2175.8 1210.7C2177.1 1212 2178.6 1213.8 2179.7 1214.6C2180.8 1215.5 2181.6 1216 2182.6 1216C2183.6 1216 2184.4 1215.4 2185.5 1214.6C2186.7 1213.9 2188 1212.1 2189.4 1211.3C2190.9 1210.5 2192.5 1210 2194.3 1209.8C2196.1 1209.5 2196.9 1209.4 2200.1 1209.8C2203.4 1210.1 2208.3 1210.9 2213.8 1211.7C2219.3 1212.5 2226.8 1213.6 2233.3 1214.6C2239.8 1215.7 2245 1216.6 2252.7 1217.9C2260.5 1219.3 2275.5 1221.8 2280 1222.6"/>
<path class="cv" stroke="#000000" stroke-width="12.2" d="M244 1457.5C251.7 1457.4 279.8 1457.3 290 1457C300.2 1456.7 300.5 1456.2 305 1455.9C309.5 1455.6 312.8 1455.1 317 1455.1C321.2 1455.1 325.3 1455.6 330 1455.9C334.7 1456.2 333.3 1456.8 345 1457C356.7 1457.2 374.2 1457 400 1457C425.8 1457 470 1457 500 1457C530 1457 561.5 1457.1 580 1457C598.5 1456.9 602.4 1456.8 611.2 1456.6C619.9 1456.5 627.7 1456.5 632.6 1456.1C637.5 1455.7 638.1 1455.3 640.4 1454.3C642.7 1453.2 644.5 1452 646.2 1449.7C648 1447.4 649.6 1443.1 651.1 1440.5C652.6 1437.9 653.7 1435.5 655 1434.1C656.3 1432.7 657.6 1432.1 658.9 1432.3C660.2 1432.4 661.5 1433.2 662.8 1435C664.1 1436.9 665.4 1441.2 666.7 1443.3C668 1445.3 669.1 1446.6 670.6 1447.5C672.1 1448.4 673.7 1448.8 675.5 1448.8C677.2 1448.8 679.5 1448.4 681.3 1447.5C683.1 1446.6 684.7 1444.7 686.2 1443.3C687.6 1441.9 688.9 1440 690.1 1439.1C691.2 1438.1 692 1437.6 693 1437.8C694 1438 695.2 1438.6 696.3 1440.2C697.4 1441.7 698.4 1445.1 699.8 1446.9C701.2 1448.8 702.6 1450.1 704.7 1451.1C706.8 1452.1 708.6 1452.6 712.5 1453C716.4 1453.3 724.2 1453.4 728.1 1453.3C732 1453.2 733.6 1452.3 735.9 1452.4C738.1 1452.6 740.1 1453.6 741.7 1454.3C743.3 1454.9 741.7 1455.7 745.6 1456.1C749.5 1456.5 757 1456.5 765.1 1456.6C773.2 1456.8 775.1 1456.9 794.3 1457C813.5 1457.1 845.7 1457 880 1457C914.3 1457 963.3 1457 1000 1457C1036.7 1457 1066.7 1457.2 1100 1457.3C1133.3 1457.3 1166.7 1457.3 1200 1457.3C1233.3 1457.2 1271.7 1457 1300 1457C1328.3 1457 1353.2 1457.1 1370 1457C1386.8 1456.9 1391.4 1457 1400.8 1456.7C1410.2 1456.4 1420.1 1456.1 1426.6 1455.4C1433.1 1454.8 1435.5 1454 1440 1452.8C1444.5 1451.5 1450.1 1449.8 1453.4 1448.1C1456.8 1446.4 1457.9 1445 1460.1 1442.7C1462.3 1440.5 1465.3 1437.2 1466.8 1434.7C1468.3 1432.3 1468.1 1431.5 1468.9 1428.1C1469.7 1424.7 1470.4 1421.3 1471.5 1414.6C1472.6 1407.9 1474.4 1396.7 1475.6 1387.8C1476.8 1378.9 1477.9 1370 1478.9 1361C1479.9 1352.1 1480.6 1345.4 1481.6 1334.3C1482.6 1323.1 1483.8 1307.3 1484.7 1294C1485.6 1280.6 1486.3 1265.1 1487 1253.9C1487.7 1242.8 1488.2 1235.9 1488.7 1226.9C1489.2 1217.9 1489.8 1207.1 1490.3 1200.1C1490.8 1193.1 1491.2 1188.2 1491.8 1184.9C1492.3 1181.7 1493 1180.8 1493.6 1180.8C1494.2 1180.8 1494.7 1181.7 1495.4 1184.9C1496.1 1188.2 1497 1193.1 1497.7 1200.1C1498.4 1207.1 1499.2 1217.9 1499.7 1226.9C1500.2 1235.9 1500.5 1242.8 1501 1253.9C1501.5 1265.1 1502.1 1280.6 1502.7 1294C1503.3 1307.3 1504.2 1323.1 1504.8 1334.3C1505.4 1345.4 1505.8 1352.1 1506.4 1361C1507 1370 1507.5 1378.9 1508.4 1387.8C1509.3 1396.7 1510.7 1407.9 1511.8 1414.6C1512.9 1421.3 1514.1 1424.7 1515.1 1428.1C1516.1 1431.5 1516.9 1432.5 1517.8 1434.7C1518.7 1436.9 1518.9 1439.3 1520.5 1441.3C1522.1 1443.4 1525 1445.3 1527.2 1446.9C1529.4 1448.4 1530.6 1449.5 1533.9 1450.7C1537.2 1451.9 1541.7 1453.3 1547.3 1454.1C1552.9 1455 1561.1 1455.4 1567.4 1455.9C1573.7 1456.3 1579 1456.5 1585 1456.8C1591 1457.1 1594.4 1457.4 1603.2 1457.4C1612.1 1457.4 1627.9 1457 1638.3 1456.6C1648.7 1456.2 1659.1 1455.8 1665.6 1455.1C1672.1 1454.3 1674.3 1454.1 1677.3 1451.9C1680.2 1449.8 1681.5 1447.1 1683.1 1442.2C1684.7 1437.3 1685.8 1429.2 1687 1422.7C1688.2 1416.2 1689.2 1407.8 1690.1 1403.2C1691.1 1398.7 1691.9 1396.9 1692.9 1395.5C1693.8 1394 1694.9 1393.4 1696 1394.7C1697.1 1396 1698.4 1398.6 1699.5 1403.2C1700.6 1407.9 1701.4 1416.2 1702.6 1422.7C1703.8 1429.2 1704.9 1437.5 1706.5 1442.2C1708.1 1446.9 1710.1 1449.1 1712.3 1450.8C1714.6 1452.5 1717.5 1452.3 1720.1 1452.3C1722.7 1452.3 1725.6 1452.5 1727.9 1450.8C1730.2 1449.1 1732.3 1446.9 1733.8 1442.2C1735.3 1437.5 1735.9 1428.4 1736.9 1422.7C1737.9 1417 1738.6 1411 1739.6 1407.9C1740.6 1404.8 1741.6 1402.9 1742.7 1404C1743.9 1405.2 1745.2 1414.1 1746.6 1414.9C1748 1415.8 1749.5 1410.4 1751.3 1409.1C1753 1407.8 1755.3 1406.7 1757.1 1407.1C1759 1407.6 1760.6 1409.2 1762.2 1411.8C1763.8 1414.4 1765.1 1419.6 1766.9 1422.7C1768.6 1425.8 1770.8 1428.6 1772.7 1430.5C1774.7 1432.5 1775.6 1433.8 1778.6 1434.4C1781.5 1435.1 1787.3 1434.5 1790.3 1434.4C1793.2 1434.3 1794.5 1433.1 1796.1 1433.6C1797.7 1434.2 1798.7 1436.6 1800 1437.5C1801.3 1438.4 1802.6 1439.3 1803.9 1439.1C1805.2 1438.9 1806.5 1439.1 1807.8 1436.4C1809.1 1433.6 1810.4 1427.6 1811.7 1422.7C1813 1417.9 1814.3 1410.5 1815.6 1407.1C1816.9 1403.8 1818.2 1402.8 1819.5 1402.5C1820.8 1402.1 1821.9 1403.4 1823.4 1405.2C1824.9 1406.9 1826.8 1411.4 1828.4 1413C1830.1 1414.6 1831.4 1415.1 1833.1 1414.9C1834.9 1414.7 1837.1 1414.1 1839 1411.8C1840.8 1409.5 1842.4 1406.6 1844 1401.3C1845.6 1396 1847.3 1387.3 1848.7 1379.9C1850.1 1372.4 1851.3 1362.2 1852.6 1356.5C1853.9 1350.8 1854.9 1349.5 1856.6 1345.8C1858.4 1342.1 1861.3 1338 1863.3 1334.2C1865.2 1330.3 1866.9 1329.5 1868.2 1322.5C1869.6 1315.6 1870.5 1301 1871.6 1292.7C1872.7 1284.4 1874.1 1277.2 1874.9 1272.8C1875.7 1268.3 1875.9 1266.1 1876.5 1266.1C1877.2 1266.1 1877.9 1267.2 1878.5 1272.8C1879.2 1278.3 1879.8 1286.6 1880.5 1299.3C1881.3 1312 1882.2 1332.5 1883.2 1349.1C1884.2 1365.7 1885.4 1386.7 1886.5 1398.9C1887.6 1411 1888.4 1417 1889.8 1422.1C1891.2 1427.2 1893.1 1429.4 1894.8 1429.4C1896.5 1429.4 1898.4 1428.8 1899.8 1422.1C1901.2 1415.3 1902 1401.1 1903.1 1388.9C1904.2 1376.7 1905.3 1359 1906.4 1349.1C1907.5 1339.1 1908.6 1333.2 1909.7 1329.2C1910.8 1325.2 1911.9 1324.1 1913 1325.2C1914.2 1326.3 1915.4 1331.8 1916.4 1335.8C1917.4 1339.8 1918 1346.2 1919 1349.1C1920 1352 1921.1 1353.6 1922.3 1353.1C1923.6 1352.5 1925.1 1353.1 1926.3 1345.8C1927.5 1338.5 1928.4 1321.4 1929.6 1309.3C1930.9 1297.1 1932.4 1282.7 1933.6 1272.8C1934.8 1262.8 1935.7 1254.4 1936.9 1249.5C1938.2 1244.7 1939.8 1243.6 1941.2 1243.6C1942.7 1243.6 1944.3 1243 1945.6 1249.5C1946.8 1256.1 1947.8 1269.5 1948.9 1282.7C1950 1296 1951.2 1315.4 1952.2 1329.2C1953.2 1343 1953.9 1357.5 1954.9 1365.7C1955.8 1373.9 1956.5 1377.2 1957.8 1378.3C1959.2 1379.4 1961.4 1374.4 1962.8 1372.3C1964.2 1370.2 1965 1366.9 1966.1 1365.7C1967.2 1364.5 1968.3 1363.9 1969.5 1365C1970.6 1366.1 1971.7 1367.8 1972.8 1372.3C1973.9 1376.9 1974.7 1386.1 1976.1 1392.2C1977.5 1398.3 1979.4 1403.3 1981.1 1408.8C1982.7 1414.3 1984.4 1420.4 1986 1425.4C1987.7 1430.4 1989.1 1435.4 1991 1438.7C1993 1442 1994.6 1443.4 1997.7 1445.3C2000.7 1447.3 2005.7 1449.2 2009.3 1450.3C2012.9 1451.4 2016.7 1452.2 2019.2 1452C2021.7 1451.7 2022.5 1449.5 2024.2 1448.6C2025.9 1447.8 2027.5 1446.7 2029.2 1447C2030.8 1447.3 2032.2 1449.4 2034.2 1450.3C2036.1 1451.2 2037.2 1452.2 2040.8 1452.6C2044.4 1453 2049.9 1452.6 2055.7 1452.6C2061.5 1452.6 2071.5 1453.6 2075.6 1452.6C2079.8 1451.7 2079.2 1449.3 2080.6 1447C2082 1444.7 2082.7 1440.6 2083.9 1438.7C2085.1 1436.7 2086.5 1435.4 2087.9 1435.4C2089.3 1435.4 2090.8 1436.5 2092.2 1438.7C2093.6 1440.9 2094.5 1446.1 2096.2 1448.6C2097.9 1451.1 2099.5 1451.8 2102.2 1453.6C2104.8 1455.4 2108.3 1458.4 2112.1 1459.6C2116 1460.8 2121 1460.9 2125.4 1460.9C2129.8 1460.9 2134.8 1460.8 2138.7 1459.6C2142.6 1458.4 2145.6 1456 2148.6 1453.6C2151.7 1451.2 2154.4 1447.9 2156.9 1445.3C2159.4 1442.7 2161.4 1438.6 2163.6 1438C2165.8 1437.5 2168 1440 2170.2 1442C2172.4 1444 2174.9 1448.2 2176.8 1450.3C2178.8 1452.4 2180.2 1454.6 2181.8 1454.6C2183.5 1454.6 2184.6 1451.6 2186.8 1450.3C2189 1449 2191.5 1447.3 2195.1 1447C2198.7 1446.7 2202.8 1447.8 2208.4 1448.6C2213.9 1449.5 2221.6 1450.6 2228.3 1452C2234.9 1453.3 2239.6 1454.8 2248.2 1456.9C2256.8 1459.1 2274.7 1463.6 2280 1464.9"/>
</g>
<text transform="translate(253.6 1617.5) scale(1 1.045)" font-size="62" text-anchor="middle">3600</text>
<text transform="translate(656.4 1617.5) scale(1 1.045)" font-size="62" text-anchor="middle">3000</text>
<text transform="translate(1059.3 1617.5) scale(1 1.045)" font-size="62" text-anchor="middle">2400</text>
<text transform="translate(1462.2 1617.5) scale(1 1.045)" font-size="62" text-anchor="middle">1800</text>
<text transform="translate(1865.1 1617.5) scale(1 1.045)" font-size="62" text-anchor="middle">1200</text>
<text transform="translate(2268 1617.5) scale(1 1.045)" font-size="62" text-anchor="middle">600</text>
<text x="919.5" y="1754.9" font-size="77.5" text-anchor="start">Wavenumber (cm<tspan class="se" font-size="46" dy="-37.7">−1</tspan><tspan dy="37.7">)</tspan></text>
<text transform="translate(111.4,758.8) rotate(-90)" font-size="77.5" text-anchor="middle">Absorbance</text>
<text x="2204" y="100.3" font-size="76.5" text-anchor="middle">(a)</text>
<text transform="translate(269.6 669.4) scale(1 1.040)" font-size="77.5" text-anchor="start">Cor-PLA-R</text>
<text transform="translate(263.7 932.7) scale(1 1.040)" font-size="77.5" text-anchor="start">3D-PLA-R</text>
<text transform="translate(260.2 1177.8) scale(1 1.040)" font-size="77.5" text-anchor="start">3D-PLA</text>
<text transform="translate(279.8 1397.8) scale(1 1.040)" font-size="77.5" text-anchor="start">PLA-f</text>
<text x="878.3" y="304.7" font-size="77.5" text-anchor="start">Poly(lactic acid)</text>
<g id="structure" stroke="#000" fill="none" stroke-linecap="round">
<g stroke-width="5.4">
<line x1="418.6" y1="99.4" x2="418.6" y2="202.6"/>
<line x1="282.6" y1="307.4" x2="395.2" y2="242.3"/>
<line x1="440.4" y1="241.6" x2="528" y2="291.8"/>
<line x1="573.6" y1="293" x2="662.5" y2="242.3"/>
<line x1="711.2" y1="242.3" x2="819.9" y2="306.6"/>
<line x1="544.4" y1="332" x2="544.4" y2="435.2"/>
<line x1="561.2" y1="332" x2="561.2" y2="435.2"/>
</g>
<g stroke-width="3.2" stroke-linecap="butt"><path d="M353.5 140.3H320.4V379.5H353.5"/><path d="M729.5 140.3H763.4V379.5H729.5"/></g>
</g>
<text x="400" y="91.2" font-size="51" text-anchor="start">CH<tspan font-size="42" dy="11">3</tspan></text>
<text x="400" y="246.2" font-size="51" text-anchor="start">C</text>
<text x="666" y="246.2" font-size="51" text-anchor="start">O</text>
<text x="533" y="324.2" font-size="51" text-anchor="start">C</text>
<text x="531.5" y="478" font-size="51" text-anchor="start">O</text>
<text x="784" y="387.7" font-size="60" text-anchor="start" class="se">n</text>
</g>
<g id="plot-b">
<rect x="253" y="1839" width="6" height="1536.8" fill="#000"/>
<rect x="2267.2" y="1839" width="5.8" height="1536.8" fill="#000"/>
<rect x="253" y="1839" width="2020" height="5.8" fill="#000"/>
<rect x="253" y="3340" width="2020" height="6.8" fill="#000"/>
<rect x="655.7" y="3343" width="6.2" height="32.8" fill="#000"/>
<rect x="1058.5" y="3343" width="6.2" height="32.8" fill="#000"/>
<rect x="1461.4" y="3343" width="6.2" height="32.8" fill="#000"/>
<rect x="1864.2" y="3343" width="6.2" height="32.8" fill="#000"/>
<rect x="454.3" y="3343" width="6.2" height="18.2" fill="#000"/>
<rect x="857.1" y="3343" width="6.2" height="18.2" fill="#000"/>
<rect x="1260" y="3343" width="6.2" height="18.2" fill="#000"/>
<rect x="1662.8" y="3343" width="6.2" height="18.2" fill="#000"/>
<rect x="2065.6" y="3343" width="6.2" height="18.2" fill="#000"/>
<clipPath id="cb"><rect x="254.9" y="1842" width="2017.1" height="1501.4"/></clipPath>
<g clip-path="url(#cb)">
<path class="cv" stroke="#000" stroke-width="16.2" d="M250.2 3242.6L253.4 3245.1L266.8 3253.3L280.2 3258.6L293.6 3261.8L307.1 3262.8L320.5 3261.6L333.9 3257.3L347.4 3248.4L360.8 3233.6L374.2 3211.1L387.7 3181.2L401.1 3143.4L414.5 3093.6L427.9 3031.5L441.4 2964.7L454.8 2891.5L468.2 2806.6L481.7 2709.5L495.1 2606.7L508.5 2503.5L522 2404L535.4 2310.9L548.8 2225.5L562.2 2147.8L575.7 2077.9L589.1 2022.9L602.5 1982.3L616 1955.2L629.4 1943L642.8 1943.1L656.3 1957.8L669.7 1982.2L683.1 2016.6L696.5 2063L710 2112.1L723.4 2160.9L736.8 2209.9L750.3 2259.5L763.7 2310.3L777.1 2362L790.6 2414.1L804 2466.1L817.4 2517.6L830.8 2567.9L844.3 2616.7L857.7 2663.8L871.1 2709L884.6 2752.1L898 2792.9L911.4 2831.5L924.9 2867.8L938.3 2902L951.7 2934.1L965.1 2964.3L978.6 2992.8L992 3019.7L1005.4 3045L1018.9 3069L1032.3 3091.4L1045.7 3112L1059.2 3130.7L1072.6 3147.5L1086 3162.5L1099.5 3175.9L1112.9 3187.7L1126.3 3198.1L1139.7 3207.1L1153.2 3214.9L1166.6 3221.8L1180 3227.9L1193.5 3233.4L1206.9 3238.5L1220.3 3243.4L1233.8 3248.2L1247.2 3252.8L1260.6 3257.1L1274 3261.1L1287.5 3264.6L1300.9 3267.4L1314.3 3269.5L1327.8 3271L1341.2 3271.9L1354.6 3272.3L1368 3272.2L1381.5 3271.8L1394.9 3271L1408.3 3269.8L1421.8 3268.4L1435.2 3266.6L1448.6 3264.5L1462.1 3261.9L1475.5 3258.9L1488.9 3255.5L1502.3 3251.5L1515.8 3247L1529.2 3242L1542.6 3236.9L1556.1 3232.4L1569.5 3229.1L1582.9 3227.4L1596.4 3226.6L1609.8 3225.7L1623.2 3224.7L1636.7 3223.6L1650.1 3222.7L1663.5 3221.9L1676.9 3221.4L1690.4 3221.4L1703.8 3221.9L1717.2 3223.1L1730.7 3225.2L1744.1 3228.2L1757.5 3231.9L1770.9 3236.1L1784.4 3240.5L1797.8 3244.9L1811.2 3249L1824.7 3252.7L1838.1 3256L1851.5 3258.8L1865 3261.1L1878.4 3263L1891.8 3264.4L1905.2 3265.5L1918.7 3266.1L1932.1 3266.2L1945.5 3266L1959 3265.3L1972.4 3264.3L1985.8 3262.8L1999.3 3260.9L2012.7 3258.5L2026.1 3255.5L2039.5 3252L2053 3247.9L2066.4 3243.1L2079.8 3237.6L2093.3 3231.2L2106.7 3224.1L2120.1 3216.1L2133.6 3207.5L2147 3198.1L2160.4 3188L2173.8 3177.4L2187.3 3166.3L2200.7 3154.8L2214.1 3143.7L2227.6 3134.2L2241 3127.1L2254.4 3122.8L2267.9 3121L2275.7 3121.1"/>
<path class="cv" stroke="#0000ff" stroke-width="15.6" stroke-dasharray="21.5 41.5" stroke-dashoffset="-3" d="M250.2 3259.1L252.9 3259.7L255.7 3260.2L258.6 3260.6L261.5 3260.9L264.4 3261.1L267.4 3261.3L270.4 3261.3L273.4 3261.3L276.5 3261.1L279.6 3260.9L282.6 3260.6L285.7 3260.2L288.8 3259.7L291.9 3259.1L294.9 3258.5L297.9 3257.7L300.9 3256.9L303.9 3256L306.9 3255L309.7 3253.9L312.6 3252.7L315.4 3251.5L318.1 3250.2L320.8 3248.8L323.4 3247.3L325.9 3245.8L328.4 3244.2L330.8 3242.5L333.1 3240.7L335.4 3238.9L337.6 3237L339.8 3235L341.9 3233L344 3231L346 3228.8L348 3226.7L349.9 3224.4L351.7 3222.2L353.6 3219.8L355.4 3217.5L357.1 3215.1L358.8 3212.6L360.4 3210.2L362.1 3207.6L363.6 3205.1L365.2 3202.5L366.7 3199.9L368.2 3197.3L369.6 3194.6L371.1 3191.9L372.5 3189.2L373.8 3186.5L375.2 3183.8L376.5 3181L377.8 3178.3L379.1 3175.5L380.4 3172.7L381.6 3170L382.9 3167.2L384.1 3164.4L385.3 3161.6L386.5 3158.8L387.7 3156L388.8 3153.2L390 3150.4L391.1 3147.6L392.2 3144.8L393.3 3142L394.4 3139.2L395.5 3136.4L396.5 3133.6L397.6 3130.7L398.6 3127.9L399.6 3125.1L400.6 3122.2L401.6 3119.4L402.6 3116.6L403.6 3113.7L404.5 3110.9L405.5 3108L406.4 3105.2L407.3 3102.3L408.2 3099.5L409.1 3096.6L410 3093.8L410.9 3090.9L411.8 3088L412.6 3085.2L413.5 3082.3L414.3 3079.4L415.1 3076.5L415.9 3073.7L416.7 3070.8L417.5 3067.9L418.3 3065L419.1 3062.1L419.9 3059.2L420.6 3056.3L421.4 3053.4L422.1 3050.5L422.8 3047.7L423.6 3044.8L424.3 3041.8L425 3038.9L425.7 3036L426.4 3033.1L427.1 3030.2L427.8 3027.3L428.4 3024.4L429.1 3021.5L429.8 3018.6L430.4 3015.6L431.1 3012.7L431.7 3009.8L432.4 3006.9L433 3004L433.6 3001L434.2 2998.1L434.9 2995.2L435.5 2992.3L436.1 2989.3L436.7 2986.4L437.3 2983.5L437.9 2980.5L438.5 2977.6L439.1 2974.7L439.7 2971.7L440.2 2968.8L440.8 2965.8L441.4 2962.9L442 2960L442.6 2957L443.1 2954.1L443.7 2951.1L444.3 2948.2L444.8 2945.2L445.4 2942.3L446 2939.3L446.5 2936.4L447.1 2933.5L447.6 2930.5L448.2 2927.6L448.8 2924.6L449.3 2921.7L449.9 2918.7L450.4 2915.8L451 2912.8L451.5 2909.9L452.1 2906.9L452.6 2904L453.2 2901L453.7 2898.1L454.3 2895.1L454.8 2892.2L455.4 2889.2L455.9 2886.2L456.5 2883.3L457 2880.3L457.6 2877.4L458.1 2874.4L458.7 2871.5L459.2 2868.5L459.8 2865.6L460.3 2862.6L460.8 2859.6L461.4 2856.7L461.9 2853.7L462.5 2850.8L463 2847.8L463.6 2844.9L464.1 2841.9L464.6 2838.9L465.2 2836L465.7 2833L466.2 2830.1L466.8 2827.1L467.3 2824.1L467.9 2821.2L468.4 2818.2L468.9 2815.3L469.5 2812.3L470 2809.3L470.5 2806.4L471.1 2803.4L471.6 2800.5L472.1 2797.5L472.7 2794.5L473.2 2791.6L473.7 2788.6L474.3 2785.6L474.8 2782.7L475.3 2779.7L475.9 2776.8L476.4 2773.8L476.9 2770.8L477.5 2767.9L478 2764.9L478.5 2761.9L479.1 2759L479.6 2756L480.1 2753.1L480.7 2750.1L481.2 2747.1L481.7 2744.2L482.3 2741.2L482.8 2738.2L483.3 2735.3L483.9 2732.3L484.4 2729.4L484.9 2726.4L485.4 2723.4L486 2720.5L486.5 2717.5L487 2714.5L487.6 2711.6L488.1 2708.6L488.6 2705.7L489.2 2702.7L489.7 2699.7L490.2 2696.8L490.8 2693.8L491.3 2690.8L491.8 2687.9L492.4 2684.9L492.9 2682L493.4 2679L494 2676L494.5 2673.1L495 2670.1L495.6 2667.2L496.1 2664.2L496.7 2661.2L497.2 2658.3L497.7 2655.3L498.3 2652.4L498.8 2649.4L499.3 2646.4L499.9 2643.5L500.4 2640.5L501 2637.6L501.5 2634.6L502 2631.7L502.6 2628.7L503.1 2625.7L503.7 2622.8L504.2 2619.8L504.8 2616.9L505.3 2613.9L505.8 2611L506.4 2608L506.9 2605.1L507.5 2602.1L508 2599.2L508.6 2596.2L509.1 2593.2L509.7 2590.3L510.2 2587.3L510.8 2584.4L511.3 2581.4L511.9 2578.5L512.4 2575.5L513 2572.6L513.5 2569.6L514.1 2566.7L514.7 2563.7L515.2 2560.8L515.8 2557.8L516.3 2554.9L516.9 2552L517.4 2549L518 2546.1L518.6 2543.1L519.1 2540.2L519.7 2537.2L520.3 2534.3L520.8 2531.3L521.4 2528.4L522 2525.5L522.5 2522.5L523.1 2519.6L523.7 2516.6L524.2 2513.7L524.8 2510.8L525.4 2507.8L526 2504.9L526.5 2502L527.1 2499L527.7 2496.1L528.3 2493.1L528.9 2490.2L529.4 2487.3L530 2484.3L530.6 2481.4L531.2 2478.5L531.8 2475.6L532.4 2472.6L533 2469.7L533.5 2466.8L534.1 2463.8L534.7 2460.9L535.3 2458L535.9 2455.1L536.5 2452.1L537.1 2449.2L537.7 2446.3L538.3 2443.4L538.9 2440.4L539.5 2437.5L540.1 2434.6L540.7 2431.7L541.4 2428.8L542 2425.8L542.6 2422.9L543.2 2420L543.8 2417.1L544.4 2414.2L545 2411.3L545.7 2408.4L546.3 2405.5L546.9 2402.5L547.5 2399.6L548.1 2396.7L548.8 2393.8L549.4 2390.9L550.1 2388L550.7 2385.1L551.3 2382.2L552 2379.3L552.6 2376.4L553.3 2373.5L553.9 2370.5L554.6 2367.6L555.3 2364.7L555.9 2361.8L556.6 2358.9L557.3 2356L558 2353.1L558.7 2350.2L559.4 2347.3L560.1 2344.4L560.8 2341.5L561.5 2338.5L562.2 2335.6L562.9 2332.7L563.7 2329.8L564.4 2326.9L565.1 2324L565.9 2321.1L566.7 2318.1L567.4 2315.2L568.2 2312.3L569 2309.4L569.8 2306.4L570.6 2303.5L571.4 2300.6L572.2 2297.7L573 2294.7L573.8 2291.8L574.7 2288.9L575.5 2285.9L576.4 2283L577.2 2280.1L578.1 2277.1L579 2274.2L579.9 2271.2L580.8 2268.3L581.7 2265.3L582.6 2262.4L583.6 2259.4L584.5 2256.5L585.5 2253.5L586.4 2250.6L587.4 2247.6L588.4 2244.6L589.4 2241.6L590.4 2238.7L591.5 2235.7L592.5 2232.7L593.5 2229.7L594.6 2226.8L595.7 2223.8L596.9 2220.9L598 2218.1L599.3 2215.3L600.6 2212.6L601.9 2210L603.4 2207.5L604.9 2205L606.5 2202.7L608.1 2200.6L609.9 2198.6L611.8 2196.7L613.8 2195.1L615.9 2193.6L618.2 2192.3L620.6 2191.2L623.1 2190.3L625.7 2189.7L628.3 2189.3L631 2189.1L633.7 2189.3L636.4 2189.7L639.1 2190.3L641.8 2191.2L644.3 2192.4L646.9 2193.7L649.3 2195.3L651.6 2197L653.8 2198.9L655.9 2200.9L657.9 2203.1L659.9 2205.4L661.7 2207.9L663.4 2210.4L665.1 2213.1L666.7 2215.9L668.2 2218.7L669.7 2221.7L671.1 2224.6L672.5 2227.7L673.8 2230.7L675.1 2233.8L676.3 2236.9L677.5 2240L678.7 2243.2L679.9 2246.2L681.1 2249.3L682.2 2252.3L683.3 2255.3L684.5 2258.3L685.6 2261.1L686.8 2263.9L687.9 2266.7L689 2269.5L690.2 2272.2L691.3 2274.9L692.4 2277.5L693.5 2280.2L694.6 2282.8L695.7 2285.5L696.8 2288.1L697.9 2290.8L699 2293.5L700.1 2296.1L701.1 2298.8L702.1 2301.5L703.2 2304.3L704.2 2307L705.2 2309.8L706.2 2312.5L707.2 2315.3L708.2 2318.1L709.2 2320.9L710.2 2323.7L711.1 2326.6L712.1 2329.4L713.1 2332.2L714 2335.1L715 2337.9L715.9 2340.8L716.8 2343.7L717.8 2346.5L718.7 2349.4L719.6 2352.3L720.6 2355.2L721.5 2358.1L722.4 2361L723.3 2363.9L724.2 2366.8L725.1 2369.6L726 2372.5L727 2375.4L727.9 2378.3L728.8 2381.2L729.7 2384.1L730.6 2387L731.5 2389.9L732.4 2392.7L733.3 2395.6L734.2 2398.5L735.1 2401.4L736 2404.3L737 2407.1L737.9 2410L738.8 2412.9L739.7 2415.8L740.6 2418.6L741.5 2421.5L742.4 2424.4L743.3 2427.3L744.2 2430.1L745.1 2433L746 2435.9L746.9 2438.7L747.8 2441.6L748.7 2444.5L749.6 2447.3L750.5 2450.2L751.4 2453.1L752.3 2455.9L753.2 2458.8L754.1 2461.6L755.1 2464.5L756 2467.4L756.9 2470.2L757.8 2473.1L758.7 2475.9L759.6 2478.8L760.5 2481.6L761.4 2484.5L762.3 2487.3L763.2 2490.2L764.1 2493L765 2495.9L765.9 2498.8L766.9 2501.6L767.8 2504.5L768.7 2507.3L769.6 2510.2L770.5 2513L771.4 2515.8L772.3 2518.7L773.2 2521.5L774.2 2524.4L775.1 2527.2L776 2530.1L776.9 2532.9L777.8 2535.8L778.7 2538.6L779.7 2541.5L780.6 2544.3L781.5 2547.2L782.4 2550L783.3 2552.8L784.3 2555.7L785.2 2558.5L786.1 2561.4L787 2564.2L788 2567.1L788.9 2569.9L789.8 2572.8L790.8 2575.6L791.7 2578.4L792.6 2581.3L793.6 2584.1L794.5 2587L795.4 2589.8L796.4 2592.7L797.3 2595.5L798.3 2598.3L799.2 2601.2L800.1 2604L801.1 2606.9L802 2609.7L803 2612.6L803.9 2615.4L804.9 2618.3L805.8 2621.1L806.8 2623.9L807.7 2626.8L808.7 2629.6L809.7 2632.5L810.6 2635.3L811.6 2638.2L812.5 2641L813.5 2643.8L814.5 2646.7L815.4 2649.5L816.4 2652.4L817.4 2655.2L818.4 2658.1L819.3 2660.9L820.3 2663.8L821.3 2666.6L822.3 2669.4L823.3 2672.3L824.3 2675.1L825.3 2678L826.3 2680.8L827.3 2683.6L828.3 2686.5L829.3 2689.3L830.3 2692.1L831.3 2695L832.3 2697.8L833.3 2700.6L834.3 2703.5L835.3 2706.3L836.3 2709.1L837.4 2712L838.4 2714.8L839.4 2717.6L840.5 2720.5L841.5 2723.3L842.5 2726.1L843.6 2728.9L844.6 2731.8L845.7 2734.6L846.7 2737.4L847.8 2740.2L848.8 2743L849.9 2745.8L851 2748.7L852 2751.5L853.1 2754.3L854.2 2757.1L855.3 2759.9L856.4 2762.7L857.4 2765.5L858.5 2768.3L859.6 2771.1L860.7 2773.9L861.8 2776.7L862.9 2779.5L864.1 2782.3L865.2 2785.1L866.3 2787.9L867.4 2790.7L868.5 2793.5L869.7 2796.3L870.8 2799.1L872 2801.8L873.1 2804.6L874.2 2807.4L875.4 2810.2L876.6 2812.9L877.7 2815.7L878.9 2818.5L880.1 2821.3L881.2 2824L882.4 2826.8L883.6 2829.5L884.8 2832.3L886 2835.1L887.2 2837.8L888.4 2840.6L889.6 2843.3L890.8 2846.1L892.1 2848.8L893.3 2851.5L894.5 2854.3L895.7 2857L897 2859.7L898.2 2862.5L899.5 2865.2L900.7 2867.9L902 2870.6L903.3 2873.4L904.6 2876.1L905.8 2878.8L907.1 2881.5L908.4 2884.2L909.7 2886.9L911 2889.6L912.3 2892.3L913.6 2895L914.9 2897.7L916.3 2900.4L917.6 2903.1L918.9 2905.7L920.3 2908.4L921.6 2911.1L923 2913.8L924.4 2916.4L925.7 2919.1L927.1 2921.8L928.5 2924.4L929.9 2927.1L931.3 2929.7L932.7 2932.4L934.1 2935L935.5 2937.7L936.9 2940.3L938.3 2942.9L939.8 2945.5L941.2 2948.2L942.6 2950.8L944.1 2953.4L945.6 2956L947 2958.6L948.5 2961.2L950 2963.8L951.5 2966.4L953 2969L954.5 2971.6L956 2974.2L957.5 2976.8L959 2979.4L960.5 2981.9L962.1 2984.5L963.6 2987.1L965.2 2989.6L966.7 2992.2L968.3 2994.7L969.9 2997.3L971.4 2999.8L973 3002.3L974.6 3004.9L976.2 3007.4L977.9 3009.9L979.5 3012.4L981.1 3015L982.7 3017.5L984.4 3020L986 3022.5L987.7 3025L989.4 3027.5L991 3029.9L992.7 3032.4L994.4 3034.9L996.1 3037.4L997.8 3039.8L999.5 3042.3L1001.3 3044.8L1003 3047.2L1004.7 3049.6L1006.5 3052.1L1008.2 3054.5L1010 3057L1011.8 3059.4L1013.6 3061.8L1015.4 3064.2L1017.2 3066.6L1019 3069L1020.8 3071.4L1022.6 3073.8L1024.5 3076.2L1026.3 3078.6L1028.2 3080.9L1030 3083.3L1031.9 3085.7L1033.8 3088L1035.7 3090.3L1037.6 3092.7L1039.5 3095L1041.5 3097.3L1043.4 3099.6L1045.3 3101.9L1047.3 3104.2L1049.3 3106.5L1051.2 3108.7L1053.2 3111L1055.2 3113.2L1057.2 3115.5L1059.3 3117.7L1061.3 3119.9L1063.4 3122.1L1065.4 3124.3L1067.5 3126.4L1069.6 3128.6L1071.7 3130.7L1073.8 3132.9L1075.9 3135L1078 3137.1L1080.2 3139.2L1082.3 3141.2L1084.5 3143.3L1086.7 3145.3L1088.9 3147.3L1091.1 3149.4L1093.3 3151.3L1095.5 3153.3L1097.8 3155.3L1100.1 3157.2L1102.3 3159.1L1104.6 3161L1106.9 3162.9L1109.2 3164.8L1111.6 3166.7L1113.9 3168.5L1116.3 3170.3L1118.7 3172.1L1121.1 3173.9L1123.5 3175.6L1125.9 3177.3L1128.3 3179L1130.8 3180.7L1133.2 3182.4L1135.7 3184L1138.2 3185.7L1140.7 3187.3L1143.3 3188.8L1145.8 3190.4L1148.4 3191.9L1151 3193.4L1153.6 3194.9L1156.2 3196.4L1158.8 3197.8L1161.4 3199.2L1164.1 3200.6L1166.8 3202L1169.4 3203.3L1172.1 3204.7L1174.9 3206L1177.6 3207.2L1180.3 3208.5L1183.1 3209.7L1185.8 3210.9L1188.6 3212.1L1191.4 3213.2L1194.2 3214.4L1197 3215.5L1199.8 3216.6L1202.6 3217.6L1205.5 3218.7L1208.3 3219.7L1211.2 3220.7L1214 3221.7L1216.9 3222.6L1219.8 3223.5L1222.7 3224.4L1225.6 3225.3L1228.5 3226.1L1231.4 3227L1234.3 3227.8L1237.3 3228.6L1240.2 3229.3L1243.2 3230L1246.1 3230.8L1249.1 3231.4L1252 3232.1L1255 3232.7L1257.9 3233.4L1260.9 3233.9L1263.9 3234.5L1266.9 3235.1L1269.9 3235.6L1272.8 3236.1L1275.8 3236.6L1278.8 3237L1281.8 3237.4L1284.8 3237.8L1287.8 3238.2L1290.8 3238.6L1293.8 3238.9L1296.8 3239.2L1299.8 3239.5L1302.8 3239.8L1305.8 3240L1308.8 3240.2L1311.8 3240.4L1314.8 3240.6L1317.8 3240.7L1320.8 3240.9L1323.8 3241L1326.8 3241L1329.8 3241.1L1332.8 3241.1L1335.8 3241.1L1338.8 3241.1L1341.7 3241.1L1344.7 3241.1L1347.7 3241L1350.7 3240.9L1353.7 3240.8L1356.7 3240.7L1359.7 3240.6L1362.6 3240.4L1365.6 3240.3L1368.6 3240.1L1371.6 3239.9L1374.6 3239.7L1377.5 3239.4L1380.5 3239.2L1383.5 3238.9L1386.5 3238.6L1389.4 3238.4L1392.4 3238L1395.4 3237.7L1398.4 3237.4L1401.3 3237.1L1404.3 3236.7L1407.3 3236.4L1410.2 3236L1413.2 3235.6L1416.2 3235.2L1419.1 3234.8L1422.1 3234.4L1425.1 3234L1428 3233.5L1431 3233.1L1434 3232.7L1436.9 3232.2L1439.9 3231.8L1442.9 3231.3L1445.8 3230.8L1448.8 3230.3L1451.8 3229.9L1454.7 3229.4L1457.7 3228.9L1460.7 3228.4L1463.6 3227.9L1466.6 3227.4L1469.5 3226.9L1472.5 3226.4L1475.5 3225.9L1478.4 3225.4L1481.4 3224.8L1484.3 3224.3L1487.3 3223.8L1490.3 3223.3L1493.2 3222.8L1496.2 3222.3L1499.2 3221.8L1502.1 3221.3L1505.1 3220.7L1508 3220.2L1511 3219.7L1514 3219.2L1516.9 3218.7L1519.9 3218.2L1522.8 3217.8L1525.8 3217.3L1528.8 3216.8L1531.7 3216.3L1534.7 3215.9L1537.6 3215.4L1540.6 3214.9L1543.6 3214.5L1546.5 3214.1L1549.5 3213.6L1552.4 3213.2L1555.4 3212.8L1558.4 3212.4L1561.3 3212L1564.3 3211.6L1567.3 3211.2L1570.2 3210.9L1573.2 3210.5L1576.1 3210.2L1579.1 3209.8L1582.1 3209.5L1585 3209.2L1588 3208.9L1591 3208.6L1593.9 3208.4L1596.9 3208.1L1599.9 3207.9L1602.8 3207.7L1605.8 3207.4L1608.8 3207.3L1611.8 3207.1L1614.7 3206.9L1617.7 3206.8L1620.7 3206.7L1623.6 3206.6L1626.6 3206.5L1629.6 3206.4L1632.6 3206.3L1635.5 3206.3L1638.5 3206.3L1641.5 3206.3L1644.5 3206.3L1647.4 3206.4L1650.4 3206.4L1653.4 3206.5L1656.4 3206.6L1659.4 3206.7L1662.3 3206.8L1665.3 3207L1668.3 3207.1L1671.3 3207.3L1674.3 3207.5L1677.3 3207.7L1680.2 3207.9L1683.2 3208.1L1686.2 3208.4L1689.2 3208.6L1692.2 3208.9L1695.2 3209.2L1698.2 3209.5L1701.1 3209.8L1704.1 3210.1L1707.1 3210.4L1710.1 3210.8L1713.1 3211.1L1716.1 3211.5L1719.1 3211.8L1722.1 3212.2L1725.1 3212.6L1728.1 3213L1731 3213.4L1734 3213.8L1737 3214.2L1740 3214.6L1743 3215L1746 3215.5L1749 3215.9L1752 3216.4L1755 3216.8L1758 3217.3L1761 3217.7L1764 3218.2L1767 3218.7L1769.9 3219.1L1772.9 3219.6L1775.9 3220.1L1778.9 3220.6L1781.9 3221.1L1784.9 3221.6L1787.9 3222L1790.9 3222.5L1793.9 3223L1796.9 3223.5L1799.9 3224L1802.9 3224.5L1805.9 3225L1808.9 3225.5L1811.9 3225.9L1814.8 3226.4L1817.8 3226.9L1820.8 3227.4L1823.8 3227.9L1826.8 3228.3L1829.8 3228.8L1832.8 3229.3L1835.8 3229.7L1838.8 3230.2L1841.8 3230.6L1844.8 3231.1L1847.8 3231.5L1850.7 3232L1853.7 3232.4L1856.7 3232.8L1859.7 3233.2L1862.7 3233.6L1865.7 3234L1868.7 3234.4L1871.7 3234.8L1874.7 3235.2L1877.6 3235.6L1880.6 3235.9L1883.6 3236.3L1886.6 3236.6L1889.6 3236.9L1892.6 3237.3L1895.6 3237.6L1898.5 3237.9L1901.5 3238.1L1904.5 3238.4L1907.5 3238.7L1910.5 3238.9L1913.5 3239.1L1916.4 3239.4L1919.4 3239.6L1922.4 3239.8L1925.4 3239.9L1928.3 3240.1L1931.3 3240.2L1934.3 3240.4L1937.3 3240.5L1940.3 3240.6L1943.2 3240.7L1946.2 3240.7L1949.2 3240.8L1952.1 3240.8L1955.1 3240.8L1958.1 3240.8L1961.1 3240.8L1964 3240.7L1967 3240.7L1970 3240.6L1972.9 3240.5L1975.9 3240.3L1978.9 3240.2L1981.8 3240L1984.8 3239.8L1987.8 3239.6L1990.7 3239.4L1993.7 3239.1L1996.6 3238.9L1999.6 3238.6L2002.5 3238.2L2005.5 3237.9L2008.5 3237.5L2011.4 3237.1L2014.4 3236.7L2017.3 3236.2L2020.3 3235.8L2023.2 3235.3L2026.2 3234.7L2029.1 3234.2L2032 3233.6L2035 3233L2037.9 3232.4L2040.8 3231.8L2043.8 3231.1L2046.7 3230.4L2049.6 3229.7L2052.5 3229L2055.4 3228.2L2058.3 3227.4L2061.3 3226.6L2064.1 3225.8L2067 3225L2069.9 3224.1L2072.8 3223.2L2075.7 3222.3L2078.5 3221.4L2081.4 3220.4L2084.3 3219.4L2087.1 3218.4L2089.9 3217.4L2092.8 3216.3L2095.6 3215.2L2098.4 3214.2L2101.2 3213L2104 3211.9L2106.8 3210.7L2109.6 3209.6L2112.4 3208.4L2115.2 3207.1L2117.9 3205.9L2120.7 3204.6L2123.4 3203.3L2126.1 3202L2128.9 3200.7L2131.6 3199.3L2134.3 3198L2137 3196.6L2139.6 3195.2L2142.3 3193.7L2144.9 3192.3L2147.6 3190.8L2150.2 3189.3L2152.8 3187.8L2155.4 3186.3L2158 3184.7L2160.6 3183.1L2163.2 3181.5L2165.7 3179.9L2168.3 3178.3L2170.8 3176.6L2173.3 3175L2175.8 3173.3L2178.3 3171.5L2180.8 3169.8L2183.2 3168.1L2185.7 3166.3L2188.1 3164.6L2190.6 3162.8L2193 3161.1L2195.5 3159.3L2197.9 3157.6L2200.4 3155.9L2202.9 3154.3L2205.4 3152.7L2207.9 3151.1L2210.4 3149.6L2213 3148.1L2215.6 3146.7L2218.2 3145.4L2220.9 3144.1L2223.6 3142.9L2226.3 3141.8L2229.1 3140.8L2231.9 3139.9L2234.8 3139L2237.7 3138.3L2240.7 3137.7L2243.8 3137.3L2246.9 3136.9L2250.1 3136.7L2253.4 3136.6L2256.7 3136.6"/>
<path class="cv" stroke="#008000" stroke-width="15" stroke-dasharray="42.6 32.2 1 33.5" stroke-dashoffset="-108.2" d="M249.3 3252.1L252.3 3253.4L255.4 3254.6L258.5 3255.6L261.6 3256.5L264.7 3257.3L267.8 3257.9L270.9 3258.4L274 3258.8L277.1 3259.1L280.1 3259.2L283.2 3259.2L286.3 3259.2L289.3 3259L292.3 3258.7L295.3 3258.3L298.2 3257.7L301.2 3257.1L304.1 3256.4L306.9 3255.6L309.8 3254.7L312.6 3253.7L315.3 3252.7L318 3251.5L320.7 3250.3L323.3 3249L325.8 3247.6L328.3 3246.2L330.7 3244.6L333.1 3243L335.5 3241.4L337.7 3239.6L340 3237.9L342.2 3236L344.3 3234.1L346.4 3232.1L348.4 3230.1L350.4 3228L352.4 3225.9L354.3 3223.7L356.2 3221.5L358 3219.3L359.8 3216.9L361.5 3214.6L363.3 3212.2L364.9 3209.8L366.6 3207.3L368.2 3204.8L369.8 3202.3L371.4 3199.7L372.9 3197.1L374.4 3194.5L375.9 3191.8L377.3 3189.2L378.7 3186.5L380.1 3183.8L381.5 3181L382.8 3178.3L384.2 3175.5L385.5 3172.8L386.8 3170L388.1 3167.2L389.3 3164.4L390.6 3161.6L391.8 3158.8L393 3156L394.2 3153.2L395.4 3150.4L396.6 3147.6L397.8 3144.8L398.9 3142L400.1 3139.1L401.2 3136.3L402.3 3133.5L403.4 3130.7L404.5 3127.8L405.6 3125L406.7 3122.2L407.7 3119.3L408.8 3116.5L409.8 3113.7L410.8 3110.8L411.8 3108L412.8 3105.1L413.8 3102.3L414.8 3099.4L415.8 3096.6L416.7 3093.7L417.7 3090.8L418.6 3088L419.5 3085.1L420.4 3082.2L421.4 3079.4L422.2 3076.5L423.1 3073.6L424 3070.7L424.9 3067.9L425.7 3065L426.6 3062.1L427.4 3059.2L428.3 3056.3L429.1 3053.4L429.9 3050.6L430.7 3047.7L431.5 3044.8L432.3 3041.9L433.1 3039L433.8 3036.1L434.6 3033.2L435.4 3030.3L436.1 3027.4L436.9 3024.5L437.6 3021.6L438.3 3018.6L439.1 3015.7L439.8 3012.8L440.5 3009.9L441.2 3007L441.9 3004.1L442.6 3001.2L443.3 2998.2L444 2995.3L444.6 2992.4L445.3 2989.5L446 2986.6L446.6 2983.6L447.3 2980.7L447.9 2977.8L448.6 2974.9L449.2 2971.9L449.8 2969L450.5 2966.1L451.1 2963.1L451.7 2960.2L452.3 2957.3L453 2954.3L453.6 2951.4L454.2 2948.5L454.8 2945.5L455.4 2942.6L456 2939.6L456.6 2936.7L457.2 2933.8L457.8 2930.8L458.3 2927.9L458.9 2924.9L459.5 2922L460.1 2919.1L460.7 2916.1L461.3 2913.2L461.8 2910.2L462.4 2907.3L463 2904.3L463.5 2901.4L464.1 2898.4L464.7 2895.5L465.3 2892.5L465.8 2889.6L466.4 2886.7L467 2883.7L467.5 2880.8L468.1 2877.8L468.6 2874.9L469.2 2871.9L469.8 2869L470.3 2866L470.9 2863.1L471.5 2860.1L472 2857.2L472.6 2854.2L473.2 2851.3L473.7 2848.3L474.3 2845.4L474.9 2842.4L475.4 2839.5L476 2836.5L476.6 2833.6L477.1 2830.6L477.7 2827.7L478.3 2824.7L478.8 2821.8L479.4 2818.8L480 2815.9L480.5 2813L481.1 2810L481.7 2807.1L482.3 2804.1L482.8 2801.2L483.4 2798.2L484 2795.3L484.5 2792.3L485.1 2789.4L485.7 2786.4L486.2 2783.5L486.8 2780.5L487.4 2777.6L487.9 2774.6L488.5 2771.7L489.1 2768.7L489.7 2765.8L490.2 2762.8L490.8 2759.9L491.4 2756.9L491.9 2754L492.5 2751L493.1 2748.1L493.7 2745.1L494.2 2742.2L494.8 2739.2L495.4 2736.3L495.9 2733.3L496.5 2730.4L497.1 2727.4L497.7 2724.5L498.2 2721.5L498.8 2718.6L499.4 2715.6L500 2712.7L500.5 2709.7L501.1 2706.8L501.7 2703.8L502.3 2700.9L502.8 2697.9L503.4 2695L504 2692L504.6 2689.1L505.2 2686.1L505.7 2683.2L506.3 2680.2L506.9 2677.3L507.5 2674.3L508 2671.4L508.6 2668.4L509.2 2665.5L509.8 2662.5L510.4 2659.6L510.9 2656.6L511.5 2653.7L512.1 2650.7L512.7 2647.8L513.3 2644.8L513.9 2641.9L514.4 2638.9L515 2636L515.6 2633L516.2 2630.1L516.8 2627.1L517.4 2624.2L518 2621.2L518.5 2618.3L519.1 2615.3L519.7 2612.4L520.3 2609.4L520.9 2606.5L521.5 2603.5L522.1 2600.6L522.7 2597.6L523.3 2594.7L523.8 2591.7L524.4 2588.8L525 2585.8L525.6 2582.9L526.2 2579.9L526.8 2577L527.4 2574L528 2571.1L528.6 2568.1L529.2 2565.2L529.8 2562.2L530.4 2559.3L531 2556.3L531.6 2553.4L532.2 2550.4L532.8 2547.5L533.4 2544.5L534 2541.6L534.6 2538.6L535.2 2535.7L535.8 2532.7L536.4 2529.8L537 2526.8L537.6 2523.9L538.2 2520.9L538.8 2518L539.4 2515L540 2512.1L540.6 2509.1L541.2 2506.2L541.8 2503.2L542.4 2500.3L543 2497.3L543.6 2494.4L544.3 2491.4L544.9 2488.5L545.5 2485.5L546.1 2482.6L546.7 2479.7L547.3 2476.7L547.9 2473.8L548.5 2470.8L549.2 2467.9L549.8 2464.9L550.4 2462L551 2459L551.6 2456.1L552.3 2453.1L552.9 2450.2L553.5 2447.2L554.2 2444.3L554.8 2441.4L555.5 2438.4L556.1 2435.5L556.8 2432.6L557.4 2429.6L558.1 2426.7L558.8 2423.8L559.5 2420.9L560.2 2417.9L560.9 2415L561.6 2412.1L562.4 2409.2L563.1 2406.3L563.9 2403.4L564.7 2400.5L565.4 2397.6L566.2 2394.7L567 2391.9L567.9 2389L568.7 2386.1L569.6 2383.2L570.4 2380.4L571.3 2377.5L572.2 2374.7L573.2 2371.8L574.1 2369L575.1 2366.2L576 2363.4L577 2360.6L578.1 2357.8L579.1 2355L580.2 2352.2L581.2 2349.4L582.4 2346.6L583.5 2343.8L584.6 2341.1L585.8 2338.3L587 2335.6L588.2 2332.9L589.5 2330.1L590.8 2327.4L592.1 2324.7L593.4 2322L594.8 2319.3L596.1 2316.7L597.6 2314L599 2311.4L600.5 2308.7L602 2306.1L603.5 2303.5L605.1 2300.9L606.7 2298.3L608.3 2295.7L610 2293.1L611.7 2290.5L643.6 2286.5"/>
<path class="cv" stroke="#008000" stroke-width="15" stroke-dasharray="42.6 32.2 1 33.5" stroke-dashoffset="42.6" d="M645.8 2288.8L647.8 2290.8L649.9 2293.1L651.9 2295.3L653.9 2297.6L655.8 2300L657.7 2302.3L659.5 2304.7L661.3 2307.1L663 2309.6L664.7 2312L666.4 2314.5L668 2317L669.6 2319.5L671.1 2322.1L672.6 2324.7L674.1 2327.3L675.5 2329.9L676.9 2332.5L678.3 2335.2L679.7 2337.8L681 2340.5L682.3 2343.2L683.5 2345.9L684.8 2348.6L686 2351.4L687.2 2354.1L688.4 2356.9L689.6 2359.6L690.7 2362.4L691.9 2365.2L693 2368L694.1 2370.8L695.2 2373.6L696.3 2376.4L697.4 2379.2L698.5 2382L699.6 2384.8L700.7 2387.6L701.7 2390.4L702.8 2393.2L703.9 2396.1L704.9 2398.9L706 2401.7L707 2404.5L708.1 2407.3L709.2 2410.1L710.2 2412.9L711.2 2415.8L712.3 2418.6L713.3 2421.4L714.4 2424.2L715.4 2427L716.4 2429.9L717.5 2432.7L718.5 2435.5L719.5 2438.3L720.5 2441.2L721.5 2444L722.6 2446.8L723.6 2449.6L724.6 2452.5L725.6 2455.3L726.6 2458.1L727.6 2461L728.6 2463.8L729.6 2466.6L730.6 2469.4L731.6 2472.3L732.6 2475.1L733.6 2477.9L734.6 2480.8L735.6 2483.6L736.6 2486.4L737.6 2489.3L738.6 2492.1L739.6 2494.9L740.6 2497.8L741.6 2500.6L742.6 2503.4L743.6 2506.3L744.6 2509.1L745.5 2511.9L746.5 2514.8L747.5 2517.6L748.5 2520.4L749.5 2523.3L750.5 2526.1L751.5 2528.9L752.4 2531.8L753.4 2534.6L754.4 2537.4L755.4 2540.3L756.4 2543.1L757.4 2546L758.4 2548.8L759.4 2551.6L760.3 2554.5L761.3 2557.3L762.3 2560.1L763.3 2563L764.3 2565.8L765.3 2568.6L766.3 2571.5L767.3 2574.3L768.3 2577.1L769.3 2580L770.2 2582.8L771.2 2585.6L772.2 2588.5L773.2 2591.3L774.2 2594.1L775.2 2597L776.2 2599.8L777.2 2602.6L778.2 2605.5L779.2 2608.3L780.2 2611.1L781.2 2614L782.3 2616.8L783.3 2619.6L784.3 2622.4L785.3 2625.3L786.3 2628.1L787.3 2630.9L788.3 2633.8L789.3 2636.6L790.3 2639.4L791.4 2642.2L792.4 2645.1L793.4 2647.9L794.4 2650.7L795.5 2653.5L796.5 2656.4L797.5 2659.2L798.5 2662L799.6 2664.8L800.6 2667.6L801.6 2670.5L802.7 2673.3L803.7 2676.1L804.8 2678.9L805.8 2681.7L806.9 2684.5L807.9 2687.3L809 2690.2L810 2693L811.1 2695.8L812.1 2698.6L813.2 2701.4L814.2 2704.2L815.3 2707L816.4 2709.8L817.4 2712.6L818.5 2715.4L819.6 2718.2L820.7 2721L821.7 2723.8L822.8 2726.6L823.9 2729.4L825 2732.2L826.1 2735L827.2 2737.8L828.3 2740.6L829.4 2743.4L830.5 2746.2L831.6 2749L832.7 2751.8L833.8 2754.6L834.9 2757.3L836 2760.1L837.1 2762.9L838.2 2765.7L839.4 2768.5L840.5 2771.3L841.6 2774L842.8 2776.8L843.9 2779.6L845 2782.4L846.2 2785.1L847.3 2787.9L848.5 2790.7L849.6 2793.4L850.8 2796.2L851.9 2799L853.1 2801.7L854.3 2804.5L855.4 2807.3L856.6 2810L857.8 2812.8L859 2815.5L860.2 2818.3L861.4 2821L862.5 2823.8L863.7 2826.5L864.9 2829.3L866.2 2832L867.4 2834.8L868.6 2837.5L869.8 2840.2L871 2843L872.2 2845.7L873.5 2848.4L874.7 2851.2L875.9 2853.9L877.2 2856.6L878.4 2859.3L879.7 2862.1L881 2864.8L882.2 2867.5L883.5 2870.2L884.8 2872.9L886 2875.6L887.3 2878.3L888.6 2881L889.9 2883.7L891.2 2886.4L892.5 2889.1L893.8 2891.8L895.1 2894.5L896.5 2897.2L897.8 2899.9L899.1 2902.6L900.5 2905.2L901.8 2907.9L903.2 2910.6L904.5 2913.2L905.9 2915.9L907.3 2918.6L908.7 2921.2L910 2923.9L911.4 2926.5L912.8 2929.1L914.2 2931.8L915.6 2934.4L917.1 2937.1L918.5 2939.7L919.9 2942.3L921.4 2944.9L922.8 2947.5L924.3 2950.1L925.7 2952.8L927.2 2955.4L928.7 2958L930.2 2960.5L931.7 2963.1L933.2 2965.7L934.7 2968.3L936.2 2970.9L937.7 2973.5L939.3 2976L940.8 2978.6L942.3 2981.1L943.9 2983.7L945.5 2986.2L947 2988.8L948.6 2991.3L950.2 2993.8L951.8 2996.4L953.4 2998.9L955 3001.4L956.7 3003.9L958.3 3006.4L960 3008.9L961.6 3011.4L963.3 3013.9L964.9 3016.4L966.6 3018.9L968.3 3021.4L970 3023.8L971.7 3026.3L973.5 3028.7L975.2 3031.2L976.9 3033.6L978.7 3036.1L980.4 3038.5L982.2 3040.9L984 3043.3L985.8 3045.8L987.6 3048.2L989.4 3050.6L991.2 3053L993 3055.4L994.9 3057.7L996.7 3060.1L998.6 3062.5L1000.5 3064.8L1002.4 3067.2L1004.3 3069.5L1006.2 3071.9L1008.1 3074.2L1010 3076.6L1012 3078.9L1013.9 3081.2L1015.9 3083.5L1017.9 3085.8L1019.8 3088.1L1021.8 3090.4L1023.9 3092.6L1025.9 3094.9L1027.9 3097.1L1030 3099.4L1032 3101.6L1034.1 3103.8L1036.2 3106L1038.3 3108.2L1040.4 3110.4L1042.5 3112.5L1044.6 3114.7L1046.8 3116.8L1048.9 3118.9L1051.1 3121.1L1053.3 3123.1L1055.5 3125.2L1057.7 3127.3L1059.9 3129.3L1062.2 3131.3L1064.4 3133.3L1066.7 3135.3L1069 3137.3L1071.3 3139.2L1073.6 3141.2L1075.9 3143.1L1078.2 3145L1080.6 3146.8L1082.9 3148.7L1085.3 3150.5L1087.7 3152.3L1090.1 3154.1L1092.5 3155.8L1094.9 3157.6L1097.4 3159.3L1099.8 3161L1102.3 3162.6L1104.8 3164.3L1107.3 3165.9L1109.8 3167.5L1112.4 3169L1114.9 3170.5L1117.5 3172L1120.1 3173.5L1122.7 3175L1125.3 3176.4L1127.9 3177.8L1130.5 3179.2L1133.2 3180.5L1135.9 3181.8L1138.5 3183.1L1141.2 3184.4L1143.9 3185.6L1146.7 3186.9L1149.4 3188.1L1152.1 3189.2L1154.9 3190.4L1157.6 3191.5L1160.4 3192.6L1163.2 3193.7L1166 3194.8L1168.8 3195.8L1171.6 3196.8L1174.4 3197.8L1177.3 3198.8L1180.1 3199.8L1183 3200.7L1185.8 3201.6L1188.7 3202.6L1191.6 3203.4L1194.4 3204.3L1197.3 3205.2L1200.2 3206L1203.1 3206.8L1206 3207.6L1208.9 3208.4L1211.9 3209.2L1214.8 3210L1217.7 3210.7L1220.6 3211.4L1223.6 3212.1L1226.5 3212.8L1229.5 3213.5L1232.4 3214.2L1235.4 3214.9L1238.3 3215.5L1241.3 3216.1L1244.3 3216.7L1247.2 3217.3L1250.2 3217.9L1253.2 3218.5L1256.2 3219L1259.1 3219.6L1262.1 3220.1L1265.1 3220.6L1268.1 3221.1L1271.1 3221.5L1274.1 3222L1277.1 3222.4L1280 3222.8L1283 3223.2L1286 3223.6L1289 3223.9L1292 3224.3L1295 3224.6L1298 3224.9L1301 3225.2L1304 3225.4L1307 3225.7L1310 3225.9L1313 3226.1L1316 3226.3L1319 3226.4L1322 3226.5L1325 3226.7L1328 3226.8L1331 3226.8L1334 3226.9L1337 3226.9L1340 3226.9L1343 3226.9L1346 3226.9L1349 3226.8L1351.9 3226.7L1354.9 3226.6L1357.9 3226.5L1360.9 3226.3L1363.9 3226.1L1366.8 3225.9L1369.8 3225.7L1372.8 3225.5L1375.7 3225.2L1378.7 3224.9L1381.6 3224.6L1384.6 3224.3L1387.6 3223.9L1390.5 3223.5L1393.5 3223.2L1396.4 3222.7L1399.4 3222.3L1402.3 3221.9L1405.3 3221.4L1408.2 3220.9L1411.2 3220.4L1414.1 3219.9L1417 3219.4L1420 3218.9L1422.9 3218.3L1425.9 3217.8L1428.8 3217.2L1431.8 3216.6L1434.7 3216L1437.6 3215.4L1440.6 3214.8L1443.5 3214.2L1446.5 3213.5L1449.4 3212.9L1452.3 3212.2L1455.3 3211.6L1458.2 3210.9L1461.2 3210.2L1464.1 3209.6L1467.1 3208.9L1470 3208.2L1473 3207.6L1475.9 3206.9L1478.9 3206.2L1481.8 3205.6L1484.8 3204.9L1487.7 3204.2L1490.6 3203.6L1493.6 3202.9L1496.6 3202.3L1499.5 3201.7L1502.5 3201.1L1505.4 3200.5L1508.4 3199.9L1511.3 3199.3L1514.3 3198.7L1517.2 3198.2L1520.2 3197.6L1523.1 3197.1L1526.1 3196.6L1529.1 3196.1L1532 3195.6L1535 3195.1L1538 3194.6L1540.9 3194.2L1543.9 3193.8L1546.9 3193.3L1549.8 3192.9L1552.8 3192.5L1555.8 3192.1L1558.7 3191.8L1561.7 3191.4L1564.7 3191.1L1567.6 3190.7L1570.6 3190.4L1573.6 3190.1L1576.5 3189.8L1579.5 3189.5L1582.5 3189.3L1585.5 3189L1588.4 3188.8L1591.4 3188.6L1594.4 3188.3L1597.4 3188.1L1600.4 3187.9L1603.3 3187.8L1606.3 3187.6L1609.3 3187.5L1612.3 3187.3L1615.2 3187.2L1618.2 3187.1L1621.2 3187L1624.2 3186.9L1627.2 3186.8L1630.2 3186.7L1633.1 3186.7L1636.1 3186.6L1639.1 3186.6L1642.1 3186.6L1645.1 3186.6L1648.1 3186.6L1651 3186.6L1654 3186.6L1657 3186.7L1660 3186.7L1663 3186.8L1666 3186.9L1669 3187L1672 3187.1L1674.9 3187.2L1677.9 3187.3L1680.9 3187.5L1683.9 3187.6L1686.9 3187.8L1689.9 3187.9L1692.9 3188.1L1695.9 3188.3L1698.9 3188.5L1701.9 3188.8L1704.8 3189L1707.8 3189.2L1710.8 3189.5L1713.8 3189.7L1716.8 3190L1719.8 3190.3L1722.8 3190.6L1725.8 3190.9L1728.8 3191.2L1731.8 3191.6L1734.8 3191.9L1737.8 3192.3L1740.7 3192.6L1743.7 3193L1746.7 3193.4L1749.7 3193.8L1752.7 3194.2L1755.7 3194.6L1758.7 3195.1L1761.7 3195.5L1764.7 3196L1767.7 3196.4L1770.7 3196.9L1773.7 3197.4L1776.6 3197.9L1779.6 3198.4L1782.6 3198.9L1785.6 3199.4L1788.6 3199.9L1791.6 3200.5L1794.6 3201L1797.6 3201.6L1800.6 3202.1L1803.6 3202.7L1806.5 3203.2L1809.5 3203.8L1812.5 3204.3L1815.5 3204.9L1818.5 3205.5L1821.5 3206.1L1824.5 3206.6L1827.5 3207.2L1830.4 3207.8L1833.4 3208.4L1836.4 3209L1839.4 3209.5L1842.4 3210.1L1845.4 3210.7L1848.4 3211.3L1851.3 3211.8L1854.3 3212.4L1857.3 3213L1860.3 3213.5L1863.3 3214.1L1866.3 3214.7L1869.2 3215.2L1872.2 3215.8L1875.2 3216.3L1878.2 3216.8L1881.1 3217.4L1884.1 3217.9L1887.1 3218.4L1890.1 3218.9L1893.1 3219.4L1896 3219.9L1899 3220.4L1902 3220.9L1904.9 3221.3L1907.9 3221.8L1910.9 3222.2L1913.9 3222.6L1916.8 3223.1L1919.8 3223.5L1922.8 3223.9L1925.7 3224.2L1928.7 3224.6L1931.7 3225L1934.6 3225.3L1937.6 3225.6L1940.6 3225.9L1943.5 3226.2L1946.5 3226.5L1949.4 3226.8L1952.4 3227L1955.4 3227.2L1958.3 3227.4L1961.3 3227.6L1964.2 3227.8L1967.2 3228L1970.1 3228.1L1973.1 3228.2L1976 3228.3L1979 3228.4L1981.9 3228.4L1984.9 3228.5L1987.8 3228.5L1990.8 3228.5L1993.7 3228.4L1996.6 3228.4L1999.6 3228.3L2002.5 3228.2L2005.5 3228L2008.4 3227.9L2011.3 3227.7L2014.3 3227.5L2017.2 3227.2L2020.1 3227L2023.1 3226.7L2026 3226.3L2028.9 3226L2031.9 3225.6L2034.8 3225.2L2037.7 3224.8L2040.6 3224.3L2043.5 3223.8L2046.5 3223.3L2049.4 3222.7L2052.3 3222.1L2055.2 3221.5L2058.1 3220.9L2061 3220.2L2064 3219.5L2066.9 3218.7L2069.8 3217.9L2072.7 3217.1L2075.6 3216.3L2078.5 3215.4L2081.4 3214.6L2084.2 3213.6L2087.1 3212.7L2090 3211.7L2092.9 3210.8L2095.8 3209.8L2098.6 3208.7L2101.5 3207.7L2104.4 3206.6L2107.2 3205.5L2110.1 3204.4L2112.9 3203.3L2115.8 3202.1L2118.6 3200.9L2121.4 3199.8L2124.3 3198.6L2127.1 3197.3L2129.9 3196.1L2132.7 3194.9L2135.5 3193.6L2138.3 3192.3L2141.1 3191.1L2143.9 3189.8L2146.6 3188.5L2149.4 3187.1L2152.2 3185.8L2154.9 3184.5L2157.6 3183.2L2160.4 3181.8L2163.1 3180.5L2165.8 3179.1L2168.5 3177.7L2171.2 3176.4L2173.9 3175L2176.6 3173.6L2179.2 3172.3L2181.9 3170.9L2184.6 3169.5L2187.2 3168.1L2189.8 3166.8L2192.4 3165.4L2195.1 3164L2197.7 3162.7L2200.3 3161.4L2202.9 3160.1L2205.6 3158.8L2208.2 3157.5L2210.9 3156.3L2213.5 3155.1L2216.2 3153.9L2218.9 3152.8L2221.6 3151.7L2224.3 3150.7L2227.1 3149.7L2229.8 3148.8L2232.6 3147.9L2235.4 3147.1L2238.3 3146.3L2241.2 3145.6L2244.1 3144.9L2247 3144.3L2250 3143.8L2253 3143.4L2256.1 3143.1"/>
</g>
<text transform="translate(256 3453.2) scale(1 1.040)" font-size="76" text-anchor="middle">970</text>
<text transform="translate(658.8 3453.2) scale(1 1.040)" font-size="76" text-anchor="middle">955</text>
<text transform="translate(1061.6 3453.2) scale(1 1.040)" font-size="76" text-anchor="middle">940</text>
<text transform="translate(1464.5 3453.2) scale(1 1.040)" font-size="76" text-anchor="middle">925</text>
<text transform="translate(1867.3 3453.2) scale(1 1.040)" font-size="76" text-anchor="middle">910</text>
<text transform="translate(2270.1 3453.2) scale(1 1.040)" font-size="76" text-anchor="middle">895</text>
<text x="932.5" y="3600.8" font-size="77.5" text-anchor="start">Wavenumber (cm<tspan class="se" font-size="46" dy="-37.7">−1</tspan><tspan dy="37.7">)</tspan></text>
<text transform="translate(113.4,2582.3) rotate(-90)" font-size="77.5" text-anchor="middle">Absorbance</text>
<text x="337.5" y="1932.4" font-size="77" text-anchor="middle">(b)</text>
<text x="947.3" y="1961.4" font-size="77.5" text-anchor="start">956 cm<tspan class="se" font-size="46" dy="-37.7">−1</tspan></text>
<text x="1513" y="2821.4" font-size="77.5" text-anchor="start">920 cm<tspan class="se" font-size="46" dy="-37.7">−1</tspan></text>
<line x1="918.2" y1="1947.7" x2="848.3" y2="2051.6" stroke="#000" stroke-width="10" stroke-linecap="round"/>
<path d="M819.9 2093.9L838.1 2039.9L863 2056.6Z" fill="#000" stroke="#000" stroke-width="6" stroke-linejoin="round"/>
<line x1="1635.5" y1="2869" x2="1658.1" y2="3045.4" stroke="#000" stroke-width="10" stroke-linecap="round"/>
<path d="M1664.6 3096L1642.7 3043.4L1672.5 3039.6Z" fill="#000" stroke="#000" stroke-width="6" stroke-linejoin="round"/>
<rect x="1634" y="1845.3" width="629.4" height="286.7" fill="#fff" stroke="#000" stroke-width="3"/>
<line x1="1672" y1="1897.4" x2="1843" y2="1897.4" stroke="#000" stroke-width="17" stroke-linecap="round"/>
<path class="cv" stroke="#0000ff" stroke-width="15.5" stroke-dasharray="21.5 41.5" d="M1671 1993H1843"/>
<path class="cv" stroke="#008000" stroke-width="15" stroke-dasharray="42.6 31.8 1 33" d="M1671 2088H1843"/>
<text transform="translate(1863.9 1924.7) scale(1 1.040)" font-size="77.5" text-anchor="start">PLA-f</text>
<text transform="translate(1866 2019.7) scale(1 1.040)" font-size="77.5" text-anchor="start">3D-PLA-R</text>
<text transform="translate(1865 2115.8) scale(1 1.040)" font-size="77.5" text-anchor="start">Cor-PLA-R</text>
</g>
</svg></body></html>
